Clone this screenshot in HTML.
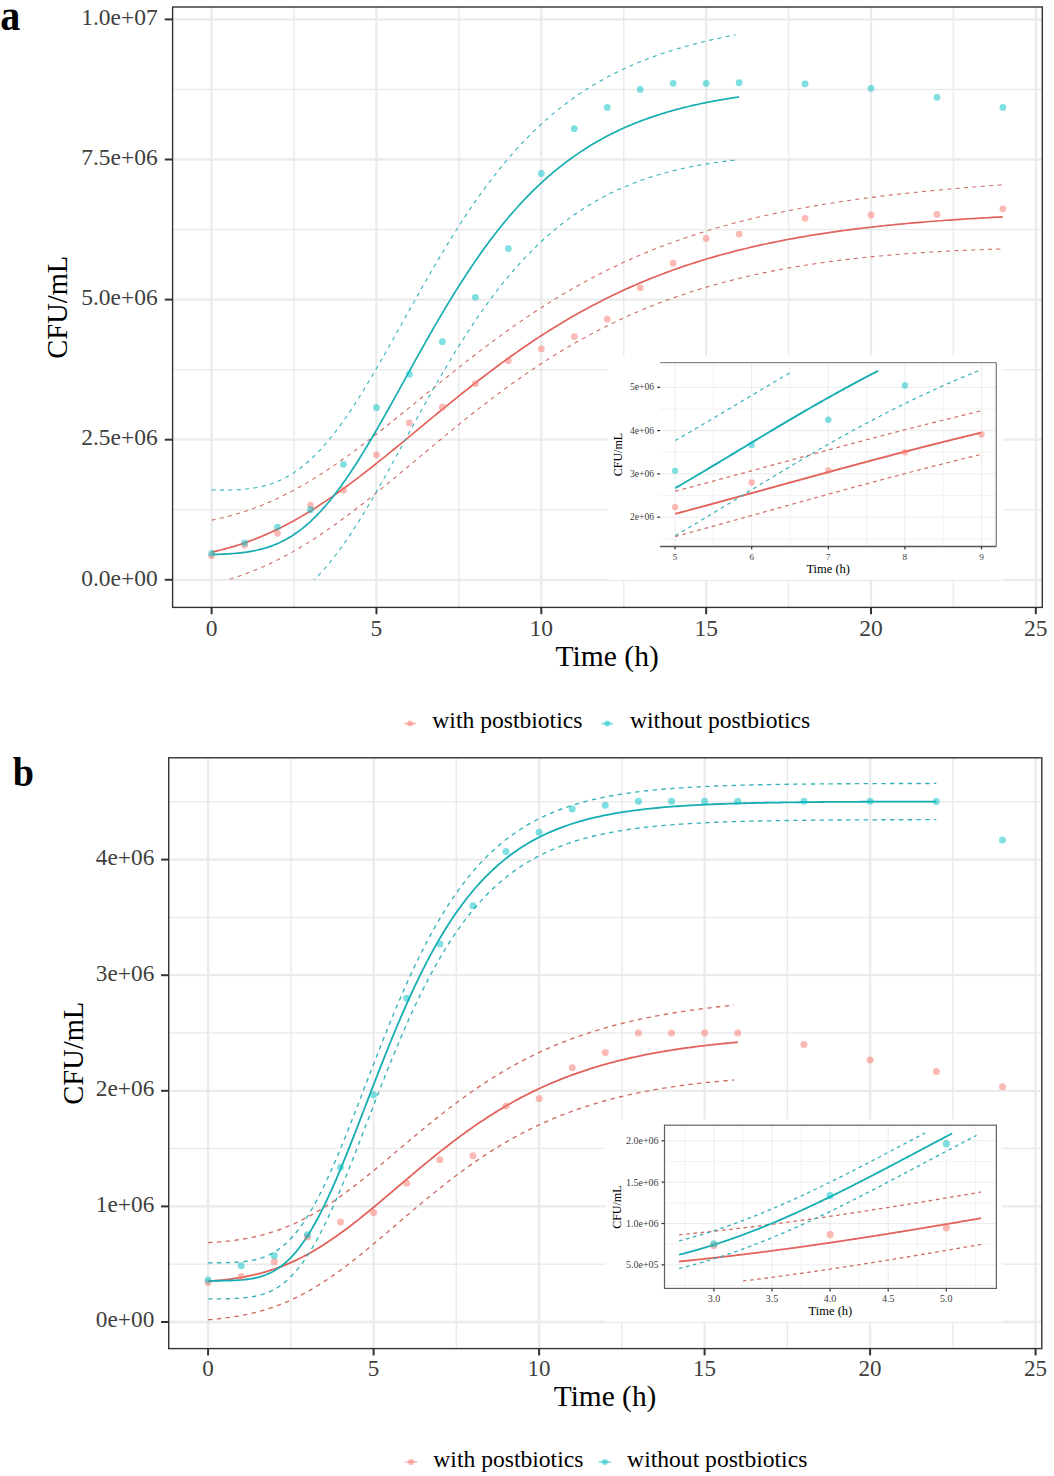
<!DOCTYPE html>
<html><head><meta charset="utf-8"><style>
html,body{margin:0;padding:0;background:#fff;}
body{width:1054px;height:1476px;overflow:hidden;}
svg{display:block;font-family:"Liberation Serif",serif;}
</style></head><body>
<svg width="1054" height="1476" viewBox="0 0 1054 1476">
<defs>
<clipPath id="cA"><rect x="172.6" y="7.0" width="869.7" height="572.8"/></clipPath>
<clipPath id="cAp"><rect x="172.6" y="7.0" width="869.7" height="600.4"/></clipPath>
<clipPath id="cIA"><rect x="675.1" y="369.98" width="306.4" height="168.87"/></clipPath>
<clipPath id="cB"><rect x="168.7" y="757.8" width="873.1" height="564.7"/></clipPath>
<clipPath id="cIB"><rect x="679.04" y="1132.53" width="302.12" height="148.86"/></clipPath>
</defs>
<rect x="172.6" y="7" width="869.7" height="600.4" fill="#fff"/>
<line x1="172.6" x2="1042.3" y1="509.75" y2="509.75" stroke="#EBEBEB" stroke-width="1.5"/>
<line x1="172.6" x2="1042.3" y1="369.65" y2="369.65" stroke="#EBEBEB" stroke-width="1.5"/>
<line x1="172.6" x2="1042.3" y1="229.55" y2="229.55" stroke="#EBEBEB" stroke-width="1.5"/>
<line x1="172.6" x2="1042.3" y1="89.45" y2="89.45" stroke="#EBEBEB" stroke-width="1.5"/>
<line y1="7" y2="607.4" x1="294.02" x2="294.02" stroke="#EBEBEB" stroke-width="1.5"/>
<line y1="7" y2="607.4" x1="458.88" x2="458.88" stroke="#EBEBEB" stroke-width="1.5"/>
<line y1="7" y2="607.4" x1="623.73" x2="623.73" stroke="#EBEBEB" stroke-width="1.5"/>
<line y1="7" y2="607.4" x1="788.58" x2="788.58" stroke="#EBEBEB" stroke-width="1.5"/>
<line y1="7" y2="607.4" x1="953.42" x2="953.42" stroke="#EBEBEB" stroke-width="1.5"/>
<line x1="172.6" x2="1042.3" y1="579.8" y2="579.8" stroke="#EBEBEB" stroke-width="2.3"/>
<line x1="172.6" x2="1042.3" y1="439.7" y2="439.7" stroke="#EBEBEB" stroke-width="2.3"/>
<line x1="172.6" x2="1042.3" y1="299.6" y2="299.6" stroke="#EBEBEB" stroke-width="2.3"/>
<line x1="172.6" x2="1042.3" y1="159.5" y2="159.5" stroke="#EBEBEB" stroke-width="2.3"/>
<line x1="172.6" x2="1042.3" y1="19.4" y2="19.4" stroke="#EBEBEB" stroke-width="2.3"/>
<line y1="7" y2="607.4" x1="211.6" x2="211.6" stroke="#EBEBEB" stroke-width="2.3"/>
<line y1="7" y2="607.4" x1="376.45" x2="376.45" stroke="#EBEBEB" stroke-width="2.3"/>
<line y1="7" y2="607.4" x1="541.3" x2="541.3" stroke="#EBEBEB" stroke-width="2.3"/>
<line y1="7" y2="607.4" x1="706.15" x2="706.15" stroke="#EBEBEB" stroke-width="2.3"/>
<line y1="7" y2="607.4" x1="871" x2="871" stroke="#EBEBEB" stroke-width="2.3"/>
<line y1="7" y2="607.4" x1="1035.85" x2="1035.85" stroke="#EBEBEB" stroke-width="2.3"/>
<g clip-path="url(#cA)" fill="none" stroke-linejoin="round">
<path d="M211.6,520.15 L214.91,519.47 L218.22,518.75 L221.53,518 L224.84,517.2 L228.15,516.35 L231.46,515.47 L234.78,514.54 L238.09,513.57 L241.4,512.55 L244.71,511.49 L248.02,510.38 L251.33,509.22 L254.64,508.02 L257.95,506.77 L261.26,505.48 L264.57,504.13 L267.88,502.74 L271.19,501.3 L274.51,499.81 L277.82,498.28 L281.13,496.7 L284.44,495.07 L287.75,493.4 L291.06,491.68 L294.37,489.91 L297.68,488.1 L300.99,486.24 L304.3,484.34 L307.61,482.4 L310.92,480.42 L314.23,478.39 L317.55,476.33 L320.86,474.22 L324.17,472.08 L327.48,469.9 L330.79,467.68 L334.1,465.42 L337.41,463.14 L340.72,460.82 L344.03,458.47 L347.34,456.09 L350.65,453.67 L353.96,451.24 L357.27,448.77 L360.59,446.28 L363.9,443.77 L367.21,441.23 L370.52,438.68 L373.83,436.1 L377.14,433.51 L380.45,430.9 L383.76,428.27 L387.07,425.63 L390.38,422.98 L393.69,420.32 L397,417.64 L400.32,414.96 L403.63,412.27 L406.94,409.58 L410.25,406.88 L413.56,404.17 L416.87,401.47 L420.18,398.76 L423.49,396.06 L426.8,393.36 L430.11,390.66 L433.42,387.96 L436.73,385.27 L440.04,382.58 L443.36,379.9 L446.67,377.23 L449.98,374.57 L453.29,371.92 L456.6,369.28 L459.91,366.65 L463.22,364.04 L466.53,361.43 L469.84,358.85 L473.15,356.27 L476.46,353.72 L479.77,351.18 L483.09,348.65 L486.4,346.15 L489.71,343.66 L493.02,341.2 L496.33,338.75 L499.64,336.32 L502.95,333.91 L506.26,331.53 L509.57,329.16 L512.88,326.82 L516.19,324.5 L519.5,322.2 L522.81,319.93 L526.13,317.67 L529.44,315.45 L532.75,313.24 L536.06,311.06 L539.37,308.9 L542.68,306.77 L545.99,304.66 L549.3,302.58 L552.61,300.52 L555.92,298.49 L559.23,296.48 L562.54,294.5 L565.86,292.54 L569.17,290.61 L572.48,288.7 L575.79,286.81 L579.1,284.95 L582.41,283.12 L585.72,281.31 L589.03,279.53 L592.34,277.77 L595.65,276.03 L598.96,274.32 L602.27,272.64 L605.58,270.98 L608.9,269.34 L612.21,267.73 L615.52,266.14 L618.83,264.57 L622.14,263.03 L625.45,261.51 L628.76,260.01 L632.07,258.54 L635.38,257.09 L638.69,255.66 L642,254.26 L645.31,252.88 L648.62,251.51 L651.94,250.17 L655.25,248.86 L658.56,247.56 L661.87,246.28 L665.18,245.03 L668.49,243.79 L671.8,242.58 L675.11,241.38 L678.42,240.21 L681.73,239.05 L685.04,237.92 L688.35,236.8 L691.67,235.7 L694.98,234.62 L698.29,233.56 L701.6,232.51 L704.91,231.49 L708.22,230.48 L711.53,229.49 L714.84,228.51 L718.15,227.56 L721.46,226.61 L724.77,225.69 L728.08,224.78 L731.39,223.89 L734.71,223.01 L738.02,222.15 L741.33,221.3 L744.64,220.47 L747.95,219.65 L751.26,218.84 L754.57,218.05 L757.88,217.27 L761.19,216.51 L764.5,215.76 L767.81,215.03 L771.12,214.3 L774.44,213.59 L777.75,212.89 L781.06,212.21 L784.37,211.53 L787.68,210.87 L790.99,210.22 L794.3,209.58 L797.61,208.95 L800.92,208.33 L804.23,207.72 L807.54,207.13 L810.85,206.54 L814.16,205.96 L817.48,205.4 L820.79,204.84 L824.1,204.3 L827.41,203.76 L830.72,203.23 L834.03,202.71 L837.34,202.2 L840.65,201.7 L843.96,201.21 L847.27,200.72 L850.58,200.25 L853.89,199.78 L857.21,199.32 L860.52,198.86 L863.83,198.42 L867.14,197.98 L870.45,197.55 L873.76,197.13 L877.07,196.71 L880.38,196.3 L883.69,195.9 L887,195.5 L890.31,195.11 L893.62,194.72 L896.93,194.35 L900.25,193.98 L903.56,193.61 L906.87,193.25 L910.18,192.89 L913.49,192.54 L916.8,192.2 L920.11,191.86 L923.42,191.53 L926.73,191.2 L930.04,190.88 L933.35,190.56 L936.66,190.24 L939.97,189.94 L943.29,189.63 L946.6,189.33 L949.91,189.03 L953.22,188.74 L956.53,188.45 L959.84,188.17 L963.15,187.89 L966.46,187.61 L969.77,187.34 L973.08,187.07 L976.39,186.81 L979.7,186.55 L983.02,186.29 L986.33,186.03 L989.64,185.78 L992.95,185.53 L996.26,185.29 L999.57,185.05 L1002.88,184.81" stroke="#D06A63" stroke-width="1.1" stroke-dasharray="4 4.4"/>
<path d="M229.73,579.18 L232.97,578.17 L236.2,577.12 L239.44,576.03 L242.67,574.9 L245.91,573.72 L249.14,572.51 L252.38,571.24 L255.61,569.94 L258.85,568.59 L262.08,567.2 L265.32,565.76 L268.55,564.28 L271.79,562.76 L275.02,561.19 L278.26,559.58 L281.49,557.92 L284.73,556.22 L287.96,554.47 L291.2,552.69 L294.43,550.86 L297.67,548.99 L300.9,547.07 L304.14,545.12 L307.37,543.13 L310.61,541.1 L313.84,539.03 L317.08,536.92 L320.31,534.77 L323.55,532.59 L326.78,530.37 L330.02,528.12 L333.25,525.84 L336.49,523.52 L339.72,521.18 L342.96,518.8 L346.19,516.4 L349.43,513.97 L352.66,511.51 L355.9,509.03 L359.13,506.52 L362.37,504 L365.6,501.45 L368.84,498.88 L372.07,496.29 L375.31,493.69 L378.54,491.07 L381.77,488.44 L385.01,485.79 L388.24,483.13 L391.48,480.46 L394.71,477.78 L397.95,475.1 L401.18,472.4 L404.42,469.7 L407.65,467 L410.89,464.29 L414.12,461.58 L417.36,458.87 L420.59,456.16 L423.83,453.45 L427.06,450.75 L430.3,448.05 L433.53,445.35 L436.77,442.66 L440,439.97 L443.24,437.3 L446.47,434.63 L449.71,431.97 L452.94,429.32 L456.18,426.69 L459.41,424.06 L462.65,421.45 L465.88,418.85 L469.12,416.27 L472.35,413.7 L475.59,411.15 L478.82,408.62 L482.06,406.1 L485.29,403.6 L488.53,401.12 L491.76,398.65 L495,396.21 L498.23,393.79 L501.47,391.39 L504.7,389.01 L507.94,386.65 L511.17,384.31 L514.41,381.99 L517.64,379.7 L520.88,377.43 L524.11,375.18 L527.35,372.96 L530.58,370.76 L533.82,368.58 L537.05,366.43 L540.29,364.3 L543.52,362.2 L546.76,360.12 L549.99,358.06 L553.23,356.03 L556.46,354.03 L559.7,352.05 L562.93,350.09 L566.17,348.16 L569.4,346.26 L572.64,344.38 L575.87,342.52 L579.11,340.69 L582.34,338.89 L585.57,337.11 L588.81,335.35 L592.04,333.62 L595.28,331.91 L598.51,330.23 L601.75,328.58 L604.98,326.94 L608.22,325.34 L611.45,323.75 L614.69,322.19 L617.92,320.66 L621.16,319.14 L624.39,317.65 L627.63,316.19 L630.86,314.75 L634.1,313.33 L637.33,311.93 L640.57,310.55 L643.8,309.2 L647.04,307.87 L650.27,306.57 L653.51,305.28 L656.74,304.02 L659.98,302.77 L663.21,301.55 L666.45,300.35 L669.68,299.17 L672.92,298.01 L676.15,296.87 L679.39,295.75 L682.62,294.65 L685.86,293.57 L689.09,292.51 L692.33,291.47 L695.56,290.44 L698.8,289.44 L702.03,288.45 L705.27,287.48 L708.5,286.53 L711.74,285.6 L714.97,284.68 L718.21,283.78 L721.44,282.9 L724.68,282.04 L727.91,281.19 L731.15,280.36 L734.38,279.54 L737.62,278.74 L740.85,277.96 L744.09,277.19 L747.32,276.43 L750.56,275.69 L753.79,274.97 L757.03,274.25 L760.26,273.56 L763.5,272.88 L766.73,272.21 L769.97,271.55 L773.2,270.91 L776.44,270.28 L779.67,269.67 L782.91,269.06 L786.14,268.47 L789.38,267.89 L792.61,267.33 L795.84,266.77 L799.08,266.23 L802.31,265.7 L805.55,265.18 L808.78,264.67 L812.02,264.17 L815.25,263.69 L818.49,263.21 L821.72,262.75 L824.96,262.29 L828.19,261.85 L831.43,261.41 L834.66,260.98 L837.9,260.57 L841.13,260.16 L844.37,259.77 L847.6,259.38 L850.84,259 L854.07,258.63 L857.31,258.27 L860.54,257.91 L863.78,257.57 L867.01,257.23 L870.25,256.91 L873.48,256.59 L876.72,256.27 L879.95,255.97 L883.19,255.67 L886.42,255.38 L889.66,255.1 L892.89,254.82 L896.13,254.56 L899.36,254.3 L902.6,254.04 L905.83,253.79 L909.07,253.55 L912.3,253.32 L915.54,253.09 L918.77,252.87 L922.01,252.65 L925.24,252.44 L928.48,252.24 L931.71,252.04 L934.95,251.85 L938.18,251.66 L941.42,251.48 L944.65,251.3 L947.89,251.13 L951.12,250.97 L954.36,250.81 L957.59,250.65 L960.83,250.5 L964.06,250.36 L967.3,250.22 L970.53,250.08 L973.77,249.95 L977,249.82 L980.24,249.7 L983.47,249.58 L986.71,249.47 L989.94,249.36 L993.18,249.26 L996.41,249.16 L999.65,249.06 L1002.88,248.97" stroke="#D06A63" stroke-width="1.1" stroke-dasharray="4 4.4"/>
<path d="M211.6,552.13 L214.91,551.39 L218.22,550.6 L221.53,549.78 L224.84,548.91 L228.15,548.01 L231.46,547.06 L234.78,546.07 L238.09,545.03 L241.4,543.95 L244.71,542.83 L248.02,541.66 L251.33,540.44 L254.64,539.18 L257.95,537.87 L261.26,536.52 L264.57,535.11 L267.88,533.67 L271.19,532.17 L274.51,530.63 L277.82,529.04 L281.13,527.4 L284.44,525.72 L287.75,523.99 L291.06,522.22 L294.37,520.4 L297.68,518.54 L300.99,516.63 L304.3,514.68 L307.61,512.69 L310.92,510.66 L314.23,508.58 L317.55,506.47 L320.86,504.31 L324.17,502.12 L327.48,499.89 L330.79,497.63 L334.1,495.33 L337.41,493 L340.72,490.63 L344.03,488.24 L347.34,485.81 L350.65,483.36 L353.96,480.88 L357.27,478.37 L360.59,475.84 L363.9,473.28 L367.21,470.7 L370.52,468.11 L373.83,465.49 L377.14,462.86 L380.45,460.21 L383.76,457.54 L387.07,454.86 L390.38,452.17 L393.69,449.47 L397,446.76 L400.32,444.04 L403.63,441.32 L406.94,438.59 L410.25,435.85 L413.56,433.12 L416.87,430.38 L420.18,427.64 L423.49,424.9 L426.8,422.16 L430.11,419.43 L433.42,416.7 L436.73,413.98 L440.04,411.26 L443.36,408.55 L446.67,405.85 L449.98,403.16 L453.29,400.48 L456.6,397.81 L459.91,395.16 L463.22,392.51 L466.53,389.88 L469.84,387.27 L473.15,384.67 L476.46,382.09 L479.77,379.52 L483.09,376.98 L486.4,374.45 L489.71,371.94 L493.02,369.45 L496.33,366.98 L499.64,364.53 L502.95,362.1 L506.26,359.7 L509.57,357.31 L512.88,354.95 L516.19,352.61 L519.5,350.29 L522.81,348 L526.13,345.73 L529.44,343.49 L532.75,341.27 L536.06,339.07 L539.37,336.9 L542.68,334.76 L545.99,332.64 L549.3,330.54 L552.61,328.47 L555.92,326.42 L559.23,324.4 L562.54,322.41 L565.86,320.44 L569.17,318.5 L572.48,316.58 L575.79,314.69 L579.1,312.82 L582.41,310.98 L585.72,309.17 L589.03,307.38 L592.34,305.62 L595.65,303.88 L598.96,302.16 L602.27,300.47 L605.58,298.81 L608.9,297.17 L612.21,295.56 L615.52,293.97 L618.83,292.4 L622.14,290.86 L625.45,289.34 L628.76,287.85 L632.07,286.38 L635.38,284.93 L638.69,283.51 L642,282.11 L645.31,280.73 L648.62,279.37 L651.94,278.04 L655.25,276.73 L658.56,275.44 L661.87,274.17 L665.18,272.92 L668.49,271.7 L671.8,270.49 L675.11,269.31 L678.42,268.14 L681.73,267 L685.04,265.88 L688.35,264.77 L691.67,263.69 L694.98,262.62 L698.29,261.58 L701.6,260.55 L704.91,259.54 L708.22,258.55 L711.53,257.57 L714.84,256.62 L718.15,255.68 L721.46,254.76 L724.77,253.85 L728.08,252.96 L731.39,252.09 L734.71,251.23 L738.02,250.39 L741.33,249.57 L744.64,248.76 L747.95,247.97 L751.26,247.19 L754.57,246.42 L757.88,245.67 L761.19,244.94 L764.5,244.21 L767.81,243.51 L771.12,242.81 L774.44,242.13 L777.75,241.46 L781.06,240.81 L784.37,240.16 L787.68,239.53 L790.99,238.91 L794.3,238.31 L797.61,237.71 L800.92,237.13 L804.23,236.56 L807.54,236 L810.85,235.45 L814.16,234.91 L817.48,234.38 L820.79,233.86 L824.1,233.35 L827.41,232.86 L830.72,232.37 L834.03,231.89 L837.34,231.42 L840.65,230.96 L843.96,230.51 L847.27,230.07 L850.58,229.64 L853.89,229.21 L857.21,228.8 L860.52,228.39 L863.83,227.99 L867.14,227.6 L870.45,227.22 L873.76,226.84 L877.07,226.47 L880.38,226.11 L883.69,225.76 L887,225.42 L890.31,225.08 L893.62,224.74 L896.93,224.42 L900.25,224.1 L903.56,223.79 L906.87,223.48 L910.18,223.18 L913.49,222.89 L916.8,222.6 L920.11,222.32 L923.42,222.04 L926.73,221.77 L930.04,221.51 L933.35,221.25 L936.66,221 L939.97,220.75 L943.29,220.5 L946.6,220.27 L949.91,220.03 L953.22,219.8 L956.53,219.58 L959.84,219.36 L963.15,219.14 L966.46,218.93 L969.77,218.73 L973.08,218.53 L976.39,218.33 L979.7,218.13 L983.02,217.94 L986.33,217.76 L989.64,217.58 L992.95,217.4 L996.26,217.22 L999.57,217.05 L1002.88,216.89" stroke="#E2635B" stroke-width="1.7"/>
<path d="M211.6,489.92 L213.79,489.98 L215.98,490.04 L218.18,490.08 L220.37,490.12 L222.56,490.14 L224.75,490.14 L226.94,490.13 L229.14,490.1 L231.33,490.06 L233.52,489.99 L235.71,489.91 L237.9,489.79 L240.1,489.66 L242.29,489.49 L244.48,489.3 L246.67,489.07 L248.86,488.82 L251.06,488.52 L253.25,488.19 L255.44,487.82 L257.63,487.41 L259.82,486.95 L262.02,486.45 L264.21,485.89 L266.4,485.29 L268.59,484.64 L270.78,483.93 L272.98,483.16 L275.17,482.33 L277.36,481.44 L279.55,480.49 L281.74,479.48 L283.94,478.4 L286.13,477.25 L288.32,476.03 L290.51,474.74 L292.7,473.38 L294.9,471.95 L297.09,470.44 L299.28,468.86 L301.47,467.2 L303.66,465.47 L305.86,463.65 L308.05,461.77 L310.24,459.8 L312.43,457.76 L314.63,455.64 L316.82,453.44 L319.01,451.16 L321.2,448.81 L323.39,446.39 L325.59,443.89 L327.78,441.32 L329.97,438.67 L332.16,435.95 L334.35,433.16 L336.55,430.31 L338.74,427.39 L340.93,424.4 L343.12,421.35 L345.31,418.23 L347.51,415.06 L349.7,411.83 L351.89,408.54 L354.08,405.2 L356.27,401.8 L358.47,398.36 L360.66,394.87 L362.85,391.34 L365.04,387.76 L367.23,384.14 L369.43,380.49 L371.62,376.8 L373.81,373.08 L376,369.32 L378.19,365.54 L380.39,361.74 L382.58,357.91 L384.77,354.06 L386.96,350.19 L389.15,346.3 L391.35,342.4 L393.54,338.49 L395.73,334.58 L397.92,330.65 L400.11,326.72 L402.31,322.79 L404.5,318.85 L406.69,314.92 L408.88,310.99 L411.07,307.07 L413.27,303.16 L415.46,299.25 L417.65,295.36 L419.84,291.47 L422.03,287.61 L424.23,283.76 L426.42,279.92 L428.61,276.11 L430.8,272.31 L432.99,268.54 L435.19,264.79 L437.38,261.07 L439.57,257.37 L441.76,253.69 L443.95,250.05 L446.15,246.43 L448.34,242.85 L450.53,239.29 L452.72,235.77 L454.91,232.28 L457.11,228.82 L459.3,225.39 L461.49,222 L463.68,218.65 L465.87,215.33 L468.07,212.04 L470.26,208.8 L472.45,205.59 L474.64,202.41 L476.83,199.28 L479.03,196.18 L481.22,193.12 L483.41,190.1 L485.6,187.12 L487.79,184.18 L489.99,181.27 L492.18,178.41 L494.37,175.58 L496.56,172.79 L498.75,170.04 L500.95,167.33 L503.14,164.66 L505.33,162.03 L507.52,159.43 L509.72,156.87 L511.91,154.36 L514.1,151.88 L516.29,149.43 L518.48,147.03 L520.68,144.66 L522.87,142.33 L525.06,140.04 L527.25,137.78 L529.44,135.56 L531.64,133.38 L533.83,131.23 L536.02,129.11 L538.21,127.04 L540.4,124.99 L542.6,122.98 L544.79,121 L546.98,119.06 L549.17,117.15 L551.36,115.27 L553.56,113.43 L555.75,111.62 L557.94,109.84 L560.13,108.08 L562.32,106.36 L564.52,104.68 L566.71,103.02 L568.9,101.38 L571.09,99.78 L573.28,98.21 L575.48,96.67 L577.67,95.15 L579.86,93.66 L582.05,92.2 L584.24,90.76 L586.44,89.35 L588.63,87.96 L590.82,86.6 L593.01,85.27 L595.2,83.96 L597.4,82.67 L599.59,81.41 L601.78,80.17 L603.97,78.95 L606.16,77.76 L608.36,76.58 L610.55,75.43 L612.74,74.3 L614.93,73.19 L617.12,72.1 L619.32,71.03 L621.51,69.98 L623.7,68.95 L625.89,67.94 L628.08,66.95 L630.28,65.98 L632.47,65.02 L634.66,64.08 L636.85,63.16 L639.04,62.26 L641.24,61.37 L643.43,60.49 L645.62,59.64 L647.81,58.8 L650,57.97 L652.2,57.16 L654.39,56.37 L656.58,55.58 L658.77,54.82 L660.96,54.06 L663.16,53.32 L665.35,52.6 L667.54,51.88 L669.73,51.18 L671.92,50.49 L674.12,49.81 L676.31,49.15 L678.5,48.49 L680.69,47.85 L682.88,47.22 L685.08,46.6 L687.27,45.99 L689.46,45.39 L691.65,44.8 L693.84,44.22 L696.04,43.65 L698.23,43.09 L700.42,42.54 L702.61,41.99 L704.8,41.46 L707,40.94 L709.19,40.42 L711.38,39.91 L713.57,39.41 L715.77,38.92 L717.96,38.43 L720.15,37.96 L722.34,37.49 L724.53,37.02 L726.73,36.57 L728.92,36.12 L731.11,35.68 L733.3,35.24 L735.49,34.81" stroke="#34B3B7" stroke-width="1.1" stroke-dasharray="4 4.4"/>
<path d="M312.16,581.74 L313.93,580.03 L315.7,578.27 L317.47,576.46 L319.24,574.61 L321.01,572.7 L322.79,570.74 L324.56,568.74 L326.33,566.69 L328.1,564.59 L329.87,562.44 L331.64,560.24 L333.41,558 L335.19,555.72 L336.96,553.39 L338.73,551.01 L340.5,548.59 L342.27,546.13 L344.04,543.63 L345.81,541.09 L347.58,538.5 L349.36,535.88 L351.13,533.22 L352.9,530.52 L354.67,527.79 L356.44,525.02 L358.21,522.22 L359.98,519.39 L361.75,516.52 L363.53,513.62 L365.3,510.7 L367.07,507.75 L368.84,504.77 L370.61,501.76 L372.38,498.74 L374.15,495.69 L375.92,492.61 L377.7,489.52 L379.47,486.41 L381.24,483.28 L383.01,480.14 L384.78,476.98 L386.55,473.81 L388.32,470.62 L390.09,467.42 L391.87,464.22 L393.64,461 L395.41,457.78 L397.18,454.55 L398.95,451.32 L400.72,448.08 L402.49,444.84 L404.26,441.6 L406.04,438.35 L407.81,435.11 L409.58,431.87 L411.35,428.63 L413.12,425.4 L414.89,422.17 L416.66,418.95 L418.44,415.73 L420.21,412.52 L421.98,409.32 L423.75,406.14 L425.52,402.96 L427.29,399.79 L429.06,396.63 L430.83,393.49 L432.61,390.36 L434.38,387.25 L436.15,384.15 L437.92,381.07 L439.69,378 L441.46,374.95 L443.23,371.92 L445,368.91 L446.78,365.91 L448.55,362.94 L450.32,359.99 L452.09,357.05 L453.86,354.14 L455.63,351.25 L457.4,348.39 L459.17,345.54 L460.95,342.72 L462.72,339.92 L464.49,337.14 L466.26,334.39 L468.03,331.66 L469.8,328.96 L471.57,326.28 L473.34,323.63 L475.12,321 L476.89,318.4 L478.66,315.82 L480.43,313.27 L482.2,310.75 L483.97,308.25 L485.74,305.77 L487.51,303.33 L489.29,300.91 L491.06,298.51 L492.83,296.15 L494.6,293.81 L496.37,291.49 L498.14,289.21 L499.91,286.95 L501.68,284.71 L503.46,282.5 L505.23,280.32 L507,278.17 L508.77,276.04 L510.54,273.94 L512.31,271.87 L514.08,269.82 L515.86,267.79 L517.63,265.8 L519.4,263.83 L521.17,261.88 L522.94,259.97 L524.71,258.07 L526.48,256.2 L528.25,254.36 L530.03,252.55 L531.8,250.75 L533.57,248.99 L535.34,247.24 L537.11,245.53 L538.88,243.83 L540.65,242.16 L542.42,240.52 L544.2,238.9 L545.97,237.3 L547.74,235.72 L549.51,234.17 L551.28,232.65 L553.05,231.14 L554.82,229.66 L556.59,228.2 L558.37,226.76 L560.14,225.34 L561.91,223.95 L563.68,222.58 L565.45,221.23 L567.22,219.89 L568.99,218.59 L570.76,217.3 L572.54,216.03 L574.31,214.78 L576.08,213.55 L577.85,212.34 L579.62,211.16 L581.39,209.99 L583.16,208.84 L584.93,207.71 L586.71,206.59 L588.48,205.5 L590.25,204.42 L592.02,203.36 L593.79,202.32 L595.56,201.3 L597.33,200.3 L599.11,199.31 L600.88,198.34 L602.65,197.38 L604.42,196.45 L606.19,195.53 L607.96,194.62 L609.73,193.73 L611.5,192.86 L613.28,192 L615.05,191.15 L616.82,190.33 L618.59,189.51 L620.36,188.71 L622.13,187.93 L623.9,187.16 L625.67,186.4 L627.45,185.66 L629.22,184.93 L630.99,184.22 L632.76,183.52 L634.53,182.83 L636.3,182.15 L638.07,181.49 L639.84,180.84 L641.62,180.2 L643.39,179.58 L645.16,178.96 L646.93,178.36 L648.7,177.77 L650.47,177.19 L652.24,176.63 L654.01,176.07 L655.79,175.52 L657.56,174.99 L659.33,174.47 L661.1,173.95 L662.87,173.45 L664.64,172.96 L666.41,172.48 L668.18,172 L669.96,171.54 L671.73,171.09 L673.5,170.64 L675.27,170.21 L677.04,169.79 L678.81,169.37 L680.58,168.96 L682.36,168.57 L684.13,168.18 L685.9,167.79 L687.67,167.42 L689.44,167.06 L691.21,166.7 L692.98,166.35 L694.75,166.01 L696.53,165.68 L698.3,165.36 L700.07,165.04 L701.84,164.73 L703.61,164.43 L705.38,164.13 L707.15,163.84 L708.92,163.56 L710.7,163.29 L712.47,163.02 L714.24,162.76 L716.01,162.51 L717.78,162.26 L719.55,162.02 L721.32,161.78 L723.09,161.56 L724.87,161.33 L726.64,161.12 L728.41,160.91 L730.18,160.7 L731.95,160.5 L733.72,160.31 L735.49,160.12" stroke="#34B3B7" stroke-width="1.1" stroke-dasharray="4 4.4"/>
<path d="M211.6,554.52 L213.81,554.47 L216.01,554.41 L218.22,554.34 L220.43,554.26 L222.64,554.17 L224.84,554.07 L227.05,553.95 L229.26,553.82 L231.46,553.67 L233.67,553.51 L235.88,553.32 L238.09,553.12 L240.29,552.89 L242.5,552.63 L244.71,552.35 L246.92,552.04 L249.12,551.69 L251.33,551.32 L253.54,550.91 L255.74,550.46 L257.95,549.97 L260.16,549.44 L262.37,548.87 L264.57,548.25 L266.78,547.58 L268.99,546.86 L271.19,546.08 L273.4,545.25 L275.61,544.37 L277.82,543.42 L280.02,542.42 L282.23,541.35 L284.44,540.21 L286.64,539.01 L288.85,537.74 L291.06,536.41 L293.27,535 L295.47,533.51 L297.68,531.96 L299.89,530.33 L302.1,528.62 L304.3,526.84 L306.51,524.98 L308.72,523.05 L310.92,521.04 L313.13,518.95 L315.34,516.78 L317.55,514.54 L319.75,512.22 L321.96,509.82 L324.17,507.35 L326.37,504.8 L328.58,502.18 L330.79,499.49 L333,496.72 L335.2,493.88 L337.41,490.97 L339.62,488 L341.82,484.96 L344.03,481.85 L346.24,478.68 L348.45,475.45 L350.65,472.17 L352.86,468.82 L355.07,465.42 L357.27,461.97 L359.48,458.47 L361.69,454.92 L363.9,451.32 L366.1,447.68 L368.31,444.01 L370.52,440.29 L372.73,436.53 L374.93,432.75 L377.14,428.93 L379.35,425.08 L381.55,421.21 L383.76,417.31 L385.97,413.4 L388.18,409.46 L390.38,405.51 L392.59,401.55 L394.8,397.57 L397,393.58 L399.21,389.59 L401.42,385.59 L403.63,381.59 L405.83,377.59 L408.04,373.59 L410.25,369.6 L412.45,365.61 L414.66,361.63 L416.87,357.66 L419.08,353.7 L421.28,349.75 L423.49,345.82 L425.7,341.91 L427.91,338.01 L430.11,334.14 L432.32,330.28 L434.53,326.45 L436.73,322.64 L438.94,318.86 L441.15,315.1 L443.36,311.38 L445.56,307.68 L447.77,304.01 L449.98,300.37 L452.18,296.76 L454.39,293.19 L456.6,289.65 L458.81,286.14 L461.01,282.67 L463.22,279.24 L465.43,275.84 L467.63,272.48 L469.84,269.16 L472.05,265.87 L474.26,262.62 L476.46,259.41 L478.67,256.24 L480.88,253.11 L483.09,250.02 L485.29,246.97 L487.5,243.96 L489.71,240.99 L491.91,238.06 L494.12,235.17 L496.33,232.32 L498.54,229.51 L500.74,226.74 L502.95,224.01 L505.16,221.32 L507.36,218.67 L509.57,216.06 L511.78,213.5 L513.99,210.97 L516.19,208.48 L518.4,206.03 L520.61,203.62 L522.81,201.24 L525.02,198.91 L527.23,196.62 L529.44,194.36 L531.64,192.14 L533.85,189.96 L536.06,187.81 L538.27,185.7 L540.47,183.63 L542.68,181.59 L544.89,179.59 L547.09,177.63 L549.3,175.7 L551.51,173.8 L553.72,171.94 L555.92,170.11 L558.13,168.32 L560.34,166.55 L562.54,164.82 L564.75,163.13 L566.96,161.46 L569.17,159.82 L571.37,158.22 L573.58,156.65 L575.79,155.1 L577.99,153.59 L580.2,152.1 L582.41,150.64 L584.62,149.21 L586.82,147.81 L589.03,146.44 L591.24,145.09 L593.45,143.77 L595.65,142.47 L597.86,141.2 L600.07,139.96 L602.27,138.74 L604.48,137.54 L606.69,136.37 L608.9,135.22 L611.1,134.1 L613.31,133 L615.52,131.92 L617.72,130.86 L619.93,129.82 L622.14,128.81 L624.35,127.81 L626.55,126.84 L628.76,125.88 L630.97,124.95 L633.17,124.04 L635.38,123.14 L637.59,122.26 L639.8,121.4 L642,120.56 L644.21,119.74 L646.42,118.93 L648.62,118.14 L650.83,117.37 L653.04,116.61 L655.25,115.87 L657.45,115.15 L659.66,114.44 L661.87,113.75 L664.08,113.07 L666.28,112.4 L668.49,111.75 L670.7,111.11 L672.9,110.49 L675.11,109.88 L677.32,109.28 L679.53,108.7 L681.73,108.13 L683.94,107.57 L686.15,107.02 L688.35,106.48 L690.56,105.96 L692.77,105.45 L694.98,104.95 L697.18,104.46 L699.39,103.98 L701.6,103.51 L703.8,103.05 L706.01,102.6 L708.22,102.16 L710.43,101.73 L712.63,101.31 L714.84,100.9 L717.05,100.5 L719.26,100.1 L721.46,99.72 L723.67,99.34 L725.88,98.98 L728.08,98.62 L730.29,98.26 L732.5,97.92 L734.71,97.58 L736.91,97.25 L739.12,96.93" stroke="#16ADB2" stroke-width="1.7"/>
</g>
<g clip-path="url(#cAp)">
<circle cx="211.6" cy="555.7" r="3.4" fill="#F8766D" fill-opacity="0.5"/>
<circle cx="244.57" cy="545.06" r="3.4" fill="#F8766D" fill-opacity="0.5"/>
<circle cx="277.54" cy="533.29" r="3.4" fill="#F8766D" fill-opacity="0.5"/>
<circle cx="310.51" cy="505.27" r="3.4" fill="#F8766D" fill-opacity="0.5"/>
<circle cx="343.48" cy="490.14" r="3.4" fill="#F8766D" fill-opacity="0.5"/>
<circle cx="376.45" cy="454.83" r="3.4" fill="#F8766D" fill-opacity="0.5"/>
<circle cx="409.42" cy="422.89" r="3.4" fill="#F8766D" fill-opacity="0.5"/>
<circle cx="442.39" cy="407.2" r="3.4" fill="#F8766D" fill-opacity="0.5"/>
<circle cx="475.36" cy="383.66" r="3.4" fill="#F8766D" fill-opacity="0.5"/>
<circle cx="508.33" cy="360.68" r="3.4" fill="#F8766D" fill-opacity="0.5"/>
<circle cx="541.3" cy="348.92" r="3.4" fill="#F8766D" fill-opacity="0.5"/>
<circle cx="574.27" cy="336.59" r="3.4" fill="#F8766D" fill-opacity="0.5"/>
<circle cx="607.24" cy="319.21" r="3.4" fill="#F8766D" fill-opacity="0.5"/>
<circle cx="640.21" cy="287.83" r="3.4" fill="#F8766D" fill-opacity="0.5"/>
<circle cx="673.18" cy="263.17" r="3.4" fill="#F8766D" fill-opacity="0.5"/>
<circle cx="706.15" cy="238.52" r="3.4" fill="#F8766D" fill-opacity="0.5"/>
<circle cx="739.12" cy="234.03" r="3.4" fill="#F8766D" fill-opacity="0.5"/>
<circle cx="805.06" cy="218.34" r="3.4" fill="#F8766D" fill-opacity="0.5"/>
<circle cx="871" cy="214.98" r="3.4" fill="#F8766D" fill-opacity="0.5"/>
<circle cx="936.94" cy="214.42" r="3.4" fill="#F8766D" fill-opacity="0.5"/>
<circle cx="1002.88" cy="208.82" r="3.4" fill="#F8766D" fill-opacity="0.5"/>
<circle cx="211.6" cy="553.46" r="3.4" fill="#00BFC4" fill-opacity="0.5"/>
<circle cx="244.57" cy="542.81" r="3.4" fill="#00BFC4" fill-opacity="0.5"/>
<circle cx="277.54" cy="527.12" r="3.4" fill="#00BFC4" fill-opacity="0.5"/>
<circle cx="310.51" cy="509.75" r="3.4" fill="#00BFC4" fill-opacity="0.5"/>
<circle cx="343.48" cy="464.36" r="3.4" fill="#00BFC4" fill-opacity="0.5"/>
<circle cx="376.45" cy="407.76" r="3.4" fill="#00BFC4" fill-opacity="0.5"/>
<circle cx="409.42" cy="374.13" r="3.4" fill="#00BFC4" fill-opacity="0.5"/>
<circle cx="442.39" cy="341.63" r="3.4" fill="#00BFC4" fill-opacity="0.5"/>
<circle cx="475.36" cy="297.36" r="3.4" fill="#00BFC4" fill-opacity="0.5"/>
<circle cx="508.33" cy="248.6" r="3.4" fill="#00BFC4" fill-opacity="0.5"/>
<circle cx="541.3" cy="173.51" r="3.4" fill="#00BFC4" fill-opacity="0.5"/>
<circle cx="574.27" cy="128.68" r="3.4" fill="#00BFC4" fill-opacity="0.5"/>
<circle cx="607.24" cy="107.38" r="3.4" fill="#00BFC4" fill-opacity="0.5"/>
<circle cx="640.21" cy="89.45" r="3.4" fill="#00BFC4" fill-opacity="0.5"/>
<circle cx="673.18" cy="83.29" r="3.4" fill="#00BFC4" fill-opacity="0.5"/>
<circle cx="706.15" cy="83.29" r="3.4" fill="#00BFC4" fill-opacity="0.5"/>
<circle cx="739.12" cy="82.73" r="3.4" fill="#00BFC4" fill-opacity="0.5"/>
<circle cx="805.06" cy="83.85" r="3.4" fill="#00BFC4" fill-opacity="0.5"/>
<circle cx="871" cy="88.33" r="3.4" fill="#00BFC4" fill-opacity="0.5"/>
<circle cx="936.94" cy="97.3" r="3.4" fill="#00BFC4" fill-opacity="0.5"/>
<circle cx="1002.88" cy="107.38" r="3.4" fill="#00BFC4" fill-opacity="0.5"/>
</g>
<rect x="172.6" y="7.0" width="869.7" height="600.4" fill="none" stroke="#333" stroke-width="1.4"/>
<line x1="211.6" x2="211.6" y1="607.4" y2="614.1999999999999" stroke="#333" stroke-width="2"/>
<text x="211.6" y="636.3" font-size="23.5" text-anchor="middle" fill="#404040">0</text>
<line x1="376.45" x2="376.45" y1="607.4" y2="614.1999999999999" stroke="#333" stroke-width="2"/>
<text x="376.45" y="636.3" font-size="23.5" text-anchor="middle" fill="#404040">5</text>
<line x1="541.3" x2="541.3" y1="607.4" y2="614.1999999999999" stroke="#333" stroke-width="2"/>
<text x="541.3" y="636.3" font-size="23.5" text-anchor="middle" fill="#404040">10</text>
<line x1="706.15" x2="706.15" y1="607.4" y2="614.1999999999999" stroke="#333" stroke-width="2"/>
<text x="706.15" y="636.3" font-size="23.5" text-anchor="middle" fill="#404040">15</text>
<line x1="871" x2="871" y1="607.4" y2="614.1999999999999" stroke="#333" stroke-width="2"/>
<text x="871" y="636.3" font-size="23.5" text-anchor="middle" fill="#404040">20</text>
<line x1="1035.85" x2="1035.85" y1="607.4" y2="614.1999999999999" stroke="#333" stroke-width="2"/>
<text x="1035.85" y="636.3" font-size="23.5" text-anchor="middle" fill="#404040">25</text>
<line x1="164.79999999999998" x2="172.6" y1="579.8" y2="579.8" stroke="#333" stroke-width="2"/>
<text x="157.8" y="585.5" font-size="23.5" text-anchor="end" fill="#404040">0.0e+00</text>
<line x1="164.79999999999998" x2="172.6" y1="439.7" y2="439.7" stroke="#333" stroke-width="2"/>
<text x="157.8" y="445.4" font-size="23.5" text-anchor="end" fill="#404040">2.5e+06</text>
<line x1="164.79999999999998" x2="172.6" y1="299.6" y2="299.6" stroke="#333" stroke-width="2"/>
<text x="157.8" y="305.3" font-size="23.5" text-anchor="end" fill="#404040">5.0e+06</text>
<line x1="164.79999999999998" x2="172.6" y1="159.5" y2="159.5" stroke="#333" stroke-width="2"/>
<text x="157.8" y="165.2" font-size="23.5" text-anchor="end" fill="#404040">7.5e+06</text>
<line x1="164.79999999999998" x2="172.6" y1="19.4" y2="19.4" stroke="#333" stroke-width="2"/>
<text x="157.8" y="25.1" font-size="23.5" text-anchor="end" fill="#404040">1.0e+07</text>
<rect x="607.24" y="355.64" width="395.64" height="224.16" fill="#fff"/>
<rect x="660.1" y="362.6" width="336.2" height="183.9" fill="#fff"/>
<line x1="660.1" x2="996.3" y1="538.85" y2="538.85" stroke="#EBEBEB" stroke-width="0.6"/>
<line x1="660.1" x2="996.3" y1="495.55" y2="495.55" stroke="#EBEBEB" stroke-width="0.6"/>
<line x1="660.1" x2="996.3" y1="452.25" y2="452.25" stroke="#EBEBEB" stroke-width="0.6"/>
<line x1="660.1" x2="996.3" y1="408.95" y2="408.95" stroke="#EBEBEB" stroke-width="0.6"/>
<line x1="660.1" x2="996.3" y1="365.65" y2="365.65" stroke="#EBEBEB" stroke-width="0.6"/>
<line y1="362.6" y2="546.5" x1="713.4" x2="713.4" stroke="#EBEBEB" stroke-width="0.6"/>
<line y1="362.6" y2="546.5" x1="790" x2="790" stroke="#EBEBEB" stroke-width="0.6"/>
<line y1="362.6" y2="546.5" x1="866.6" x2="866.6" stroke="#EBEBEB" stroke-width="0.6"/>
<line y1="362.6" y2="546.5" x1="943.2" x2="943.2" stroke="#EBEBEB" stroke-width="0.6"/>
<line x1="660.1" x2="996.3" y1="517.2" y2="517.2" stroke="#EBEBEB" stroke-width="1.0"/>
<line x1="660.1" x2="996.3" y1="473.9" y2="473.9" stroke="#EBEBEB" stroke-width="1.0"/>
<line x1="660.1" x2="996.3" y1="430.6" y2="430.6" stroke="#EBEBEB" stroke-width="1.0"/>
<line x1="660.1" x2="996.3" y1="387.3" y2="387.3" stroke="#EBEBEB" stroke-width="1.0"/>
<line y1="362.6" y2="546.5" x1="675.1" x2="675.1" stroke="#EBEBEB" stroke-width="1.0"/>
<line y1="362.6" y2="546.5" x1="751.7" x2="751.7" stroke="#EBEBEB" stroke-width="1.0"/>
<line y1="362.6" y2="546.5" x1="828.3" x2="828.3" stroke="#EBEBEB" stroke-width="1.0"/>
<line y1="362.6" y2="546.5" x1="904.9" x2="904.9" stroke="#EBEBEB" stroke-width="1.0"/>
<line y1="362.6" y2="546.5" x1="981.5" x2="981.5" stroke="#EBEBEB" stroke-width="1.0"/>
<g clip-path="url(#cIA)" fill="none" stroke-linejoin="round">
<path d="M675.1,491.18 L676.38,490.85 L677.66,490.51 L678.95,490.18 L680.23,489.84 L681.51,489.51 L682.79,489.17 L684.07,488.83 L685.36,488.5 L686.64,488.16 L687.92,487.82 L689.2,487.48 L690.48,487.14 L691.77,486.8 L693.05,486.47 L694.33,486.13 L695.61,485.79 L696.89,485.45 L698.18,485.11 L699.46,484.77 L700.74,484.42 L702.02,484.08 L703.3,483.74 L704.59,483.4 L705.87,483.06 L707.15,482.72 L708.43,482.37 L709.71,482.03 L711,481.69 L712.28,481.35 L713.56,481 L714.84,480.66 L716.12,480.31 L717.41,479.97 L718.69,479.63 L719.97,479.28 L721.25,478.94 L722.53,478.59 L723.82,478.25 L725.1,477.9 L726.38,477.56 L727.66,477.21 L728.94,476.87 L730.23,476.52 L731.51,476.18 L732.79,475.83 L734.07,475.48 L735.35,475.14 L736.64,474.79 L737.92,474.44 L739.2,474.1 L740.48,473.75 L741.76,473.4 L743.05,473.06 L744.33,472.71 L745.61,472.36 L746.89,472.01 L748.17,471.67 L749.46,471.32 L750.74,470.97 L752.02,470.62 L753.3,470.28 L754.58,469.93 L755.87,469.58 L757.15,469.23 L758.43,468.88 L759.71,468.54 L760.99,468.19 L762.28,467.84 L763.56,467.49 L764.84,467.14 L766.12,466.79 L767.4,466.45 L768.69,466.1 L769.97,465.75 L771.25,465.4 L772.53,465.05 L773.81,464.7 L775.1,464.36 L776.38,464.01 L777.66,463.66 L778.94,463.31 L780.22,462.96 L781.51,462.61 L782.79,462.27 L784.07,461.92 L785.35,461.57 L786.63,461.22 L787.92,460.87 L789.2,460.52 L790.48,460.18 L791.76,459.83 L793.04,459.48 L794.33,459.13 L795.61,458.79 L796.89,458.44 L798.17,458.09 L799.45,457.74 L800.74,457.39 L802.02,457.05 L803.3,456.7 L804.58,456.35 L805.86,456.01 L807.15,455.66 L808.43,455.31 L809.71,454.96 L810.99,454.62 L812.27,454.27 L813.56,453.92 L814.84,453.58 L816.12,453.23 L817.4,452.89 L818.68,452.54 L819.97,452.19 L821.25,451.85 L822.53,451.5 L823.81,451.16 L825.09,450.81 L826.38,450.47 L827.66,450.12 L828.94,449.78 L830.22,449.43 L831.51,449.09 L832.79,448.74 L834.07,448.4 L835.35,448.06 L836.63,447.71 L837.92,447.37 L839.2,447.03 L840.48,446.68 L841.76,446.34 L843.04,446 L844.33,445.66 L845.61,445.31 L846.89,444.97 L848.17,444.63 L849.45,444.29 L850.74,443.95 L852.02,443.6 L853.3,443.26 L854.58,442.92 L855.86,442.58 L857.15,442.24 L858.43,441.9 L859.71,441.56 L860.99,441.22 L862.27,440.88 L863.56,440.55 L864.84,440.21 L866.12,439.87 L867.4,439.53 L868.68,439.19 L869.97,438.85 L871.25,438.52 L872.53,438.18 L873.81,437.84 L875.09,437.51 L876.38,437.17 L877.66,436.84 L878.94,436.5 L880.22,436.16 L881.5,435.83 L882.79,435.49 L884.07,435.16 L885.35,434.83 L886.63,434.49 L887.91,434.16 L889.2,433.83 L890.48,433.49 L891.76,433.16 L893.04,432.83 L894.32,432.5 L895.61,432.16 L896.89,431.83 L898.17,431.5 L899.45,431.17 L900.73,430.84 L902.02,430.51 L903.3,430.18 L904.58,429.85 L905.86,429.52 L907.14,429.2 L908.43,428.87 L909.71,428.54 L910.99,428.21 L912.27,427.89 L913.55,427.56 L914.84,427.23 L916.12,426.91 L917.4,426.58 L918.68,426.26 L919.96,425.93 L921.25,425.61 L922.53,425.28 L923.81,424.96 L925.09,424.64 L926.37,424.31 L927.66,423.99 L928.94,423.67 L930.22,423.35 L931.5,423.03 L932.78,422.7 L934.07,422.38 L935.35,422.06 L936.63,421.74 L937.91,421.43 L939.19,421.11 L940.48,420.79 L941.76,420.47 L943.04,420.15 L944.32,419.83 L945.6,419.52 L946.89,419.2 L948.17,418.89 L949.45,418.57 L950.73,418.26 L952.01,417.94 L953.3,417.63 L954.58,417.31 L955.86,417 L957.14,416.69 L958.42,416.37 L959.71,416.06 L960.99,415.75 L962.27,415.44 L963.55,415.13 L964.83,414.82 L966.12,414.51 L967.4,414.2 L968.68,413.89 L969.96,413.58 L971.24,413.27 L972.53,412.96 L973.81,412.66 L975.09,412.35 L976.37,412.04 L977.65,411.74 L978.94,411.43 L980.22,411.13 L981.5,410.82" stroke="#D06A63" stroke-width="1.2" stroke-dasharray="3.8 3.8"/>
<path d="M675.1,536.55 L676.38,536.21 L677.66,535.86 L678.95,535.52 L680.23,535.17 L681.51,534.82 L682.79,534.48 L684.07,534.13 L685.36,533.78 L686.64,533.43 L687.92,533.09 L689.2,532.74 L690.48,532.39 L691.77,532.04 L693.05,531.69 L694.33,531.34 L695.61,530.99 L696.89,530.64 L698.18,530.29 L699.46,529.94 L700.74,529.59 L702.02,529.24 L703.3,528.89 L704.59,528.54 L705.87,528.18 L707.15,527.83 L708.43,527.48 L709.71,527.13 L711,526.78 L712.28,526.42 L713.56,526.07 L714.84,525.72 L716.12,525.36 L717.41,525.01 L718.69,524.66 L719.97,524.3 L721.25,523.95 L722.53,523.59 L723.82,523.24 L725.1,522.89 L726.38,522.53 L727.66,522.18 L728.94,521.82 L730.23,521.47 L731.51,521.11 L732.79,520.75 L734.07,520.4 L735.35,520.04 L736.64,519.69 L737.92,519.33 L739.2,518.98 L740.48,518.62 L741.76,518.26 L743.05,517.91 L744.33,517.55 L745.61,517.19 L746.89,516.84 L748.17,516.48 L749.46,516.12 L750.74,515.77 L752.02,515.41 L753.3,515.05 L754.58,514.7 L755.87,514.34 L757.15,513.98 L758.43,513.63 L759.71,513.27 L760.99,512.91 L762.28,512.56 L763.56,512.2 L764.84,511.84 L766.12,511.48 L767.4,511.13 L768.69,510.77 L769.97,510.41 L771.25,510.06 L772.53,509.7 L773.81,509.34 L775.1,508.98 L776.38,508.63 L777.66,508.27 L778.94,507.91 L780.22,507.56 L781.51,507.2 L782.79,506.84 L784.07,506.49 L785.35,506.13 L786.63,505.77 L787.92,505.41 L789.2,505.06 L790.48,504.7 L791.76,504.35 L793.04,503.99 L794.33,503.63 L795.61,503.28 L796.89,502.92 L798.17,502.56 L799.45,502.21 L800.74,501.85 L802.02,501.5 L803.3,501.14 L804.58,500.79 L805.86,500.43 L807.15,500.08 L808.43,499.72 L809.71,499.37 L810.99,499.01 L812.27,498.66 L813.56,498.3 L814.84,497.95 L816.12,497.59 L817.4,497.24 L818.68,496.88 L819.97,496.53 L821.25,496.18 L822.53,495.82 L823.81,495.47 L825.09,495.12 L826.38,494.76 L827.66,494.41 L828.94,494.06 L830.22,493.71 L831.51,493.35 L832.79,493 L834.07,492.65 L835.35,492.3 L836.63,491.95 L837.92,491.6 L839.2,491.25 L840.48,490.9 L841.76,490.54 L843.04,490.19 L844.33,489.84 L845.61,489.49 L846.89,489.15 L848.17,488.8 L849.45,488.45 L850.74,488.1 L852.02,487.75 L853.3,487.4 L854.58,487.05 L855.86,486.71 L857.15,486.36 L858.43,486.01 L859.71,485.66 L860.99,485.32 L862.27,484.97 L863.56,484.62 L864.84,484.28 L866.12,483.93 L867.4,483.59 L868.68,483.24 L869.97,482.9 L871.25,482.55 L872.53,482.21 L873.81,481.87 L875.09,481.52 L876.38,481.18 L877.66,480.84 L878.94,480.49 L880.22,480.15 L881.5,479.81 L882.79,479.47 L884.07,479.13 L885.35,478.79 L886.63,478.44 L887.91,478.1 L889.2,477.76 L890.48,477.43 L891.76,477.09 L893.04,476.75 L894.32,476.41 L895.61,476.07 L896.89,475.73 L898.17,475.4 L899.45,475.06 L900.73,474.72 L902.02,474.38 L903.3,474.05 L904.58,473.71 L905.86,473.38 L907.14,473.04 L908.43,472.71 L909.71,472.37 L910.99,472.04 L912.27,471.71 L913.55,471.37 L914.84,471.04 L916.12,470.71 L917.4,470.38 L918.68,470.05 L919.96,469.72 L921.25,469.38 L922.53,469.05 L923.81,468.72 L925.09,468.4 L926.37,468.07 L927.66,467.74 L928.94,467.41 L930.22,467.08 L931.5,466.75 L932.78,466.43 L934.07,466.1 L935.35,465.77 L936.63,465.45 L937.91,465.12 L939.19,464.8 L940.48,464.48 L941.76,464.15 L943.04,463.83 L944.32,463.5 L945.6,463.18 L946.89,462.86 L948.17,462.54 L949.45,462.22 L950.73,461.9 L952.01,461.58 L953.3,461.26 L954.58,460.94 L955.86,460.62 L957.14,460.3 L958.42,459.98 L959.71,459.66 L960.99,459.35 L962.27,459.03 L963.55,458.71 L964.83,458.4 L966.12,458.08 L967.4,457.77 L968.68,457.45 L969.96,457.14 L971.24,456.83 L972.53,456.51 L973.81,456.2 L975.09,455.89 L976.37,455.58 L977.65,455.27 L978.94,454.96 L980.22,454.65 L981.5,454.34" stroke="#D06A63" stroke-width="1.2" stroke-dasharray="3.8 3.8"/>
<path d="M675.1,513.87 L676.38,513.53 L677.66,513.19 L678.95,512.85 L680.23,512.51 L681.51,512.16 L682.79,511.82 L684.07,511.48 L685.36,511.14 L686.64,510.8 L687.92,510.45 L689.2,510.11 L690.48,509.77 L691.77,509.42 L693.05,509.08 L694.33,508.73 L695.61,508.39 L696.89,508.04 L698.18,507.7 L699.46,507.35 L700.74,507.01 L702.02,506.66 L703.3,506.32 L704.59,505.97 L705.87,505.62 L707.15,505.27 L708.43,504.93 L709.71,504.58 L711,504.23 L712.28,503.88 L713.56,503.54 L714.84,503.19 L716.12,502.84 L717.41,502.49 L718.69,502.14 L719.97,501.79 L721.25,501.44 L722.53,501.09 L723.82,500.74 L725.1,500.39 L726.38,500.04 L727.66,499.69 L728.94,499.34 L730.23,498.99 L731.51,498.64 L732.79,498.29 L734.07,497.94 L735.35,497.59 L736.64,497.24 L737.92,496.89 L739.2,496.54 L740.48,496.19 L741.76,495.83 L743.05,495.48 L744.33,495.13 L745.61,494.78 L746.89,494.43 L748.17,494.07 L749.46,493.72 L750.74,493.37 L752.02,493.02 L753.3,492.67 L754.58,492.31 L755.87,491.96 L757.15,491.61 L758.43,491.26 L759.71,490.9 L760.99,490.55 L762.28,490.2 L763.56,489.84 L764.84,489.49 L766.12,489.14 L767.4,488.79 L768.69,488.43 L769.97,488.08 L771.25,487.73 L772.53,487.38 L773.81,487.02 L775.1,486.67 L776.38,486.32 L777.66,485.96 L778.94,485.61 L780.22,485.26 L781.51,484.91 L782.79,484.55 L784.07,484.2 L785.35,483.85 L786.63,483.5 L787.92,483.14 L789.2,482.79 L790.48,482.44 L791.76,482.09 L793.04,481.73 L794.33,481.38 L795.61,481.03 L796.89,480.68 L798.17,480.33 L799.45,479.98 L800.74,479.62 L802.02,479.27 L803.3,478.92 L804.58,478.57 L805.86,478.22 L807.15,477.87 L808.43,477.52 L809.71,477.16 L810.99,476.81 L812.27,476.46 L813.56,476.11 L814.84,475.76 L816.12,475.41 L817.4,475.06 L818.68,474.71 L819.97,474.36 L821.25,474.01 L822.53,473.66 L823.81,473.31 L825.09,472.96 L826.38,472.62 L827.66,472.27 L828.94,471.92 L830.22,471.57 L831.51,471.22 L832.79,470.87 L834.07,470.53 L835.35,470.18 L836.63,469.83 L837.92,469.48 L839.2,469.14 L840.48,468.79 L841.76,468.44 L843.04,468.1 L844.33,467.75 L845.61,467.4 L846.89,467.06 L848.17,466.71 L849.45,466.37 L850.74,466.02 L852.02,465.68 L853.3,465.33 L854.58,464.99 L855.86,464.64 L857.15,464.3 L858.43,463.96 L859.71,463.61 L860.99,463.27 L862.27,462.93 L863.56,462.58 L864.84,462.24 L866.12,461.9 L867.4,461.56 L868.68,461.22 L869.97,460.88 L871.25,460.54 L872.53,460.19 L873.81,459.85 L875.09,459.51 L876.38,459.18 L877.66,458.84 L878.94,458.5 L880.22,458.16 L881.5,457.82 L882.79,457.48 L884.07,457.14 L885.35,456.81 L886.63,456.47 L887.91,456.13 L889.2,455.8 L890.48,455.46 L891.76,455.12 L893.04,454.79 L894.32,454.45 L895.61,454.12 L896.89,453.78 L898.17,453.45 L899.45,453.12 L900.73,452.78 L902.02,452.45 L903.3,452.12 L904.58,451.78 L905.86,451.45 L907.14,451.12 L908.43,450.79 L909.71,450.46 L910.99,450.13 L912.27,449.8 L913.55,449.47 L914.84,449.14 L916.12,448.81 L917.4,448.48 L918.68,448.15 L919.96,447.82 L921.25,447.5 L922.53,447.17 L923.81,446.84 L925.09,446.52 L926.37,446.19 L927.66,445.86 L928.94,445.54 L930.22,445.21 L931.5,444.89 L932.78,444.57 L934.07,444.24 L935.35,443.92 L936.63,443.6 L937.91,443.27 L939.19,442.95 L940.48,442.63 L941.76,442.31 L943.04,441.99 L944.32,441.67 L945.6,441.35 L946.89,441.03 L948.17,440.71 L949.45,440.39 L950.73,440.08 L952.01,439.76 L953.3,439.44 L954.58,439.12 L955.86,438.81 L957.14,438.49 L958.42,438.18 L959.71,437.86 L960.99,437.55 L962.27,437.23 L963.55,436.92 L964.83,436.61 L966.12,436.3 L967.4,435.98 L968.68,435.67 L969.96,435.36 L971.24,435.05 L972.53,434.74 L973.81,434.43 L975.09,434.12 L976.37,433.81 L977.65,433.5 L978.94,433.19 L980.22,432.89 L981.5,432.58" stroke="#E2635B" stroke-width="1.9"/>
<path d="M675.1,440.58 L675.58,440.3 L676.06,440.03 L676.54,439.75 L677.02,439.47 L677.5,439.2 L677.98,438.92 L678.47,438.65 L678.95,438.37 L679.43,438.09 L679.91,437.82 L680.39,437.54 L680.87,437.26 L681.35,436.98 L681.83,436.71 L682.31,436.43 L682.79,436.15 L683.27,435.87 L683.75,435.59 L684.23,435.32 L684.72,435.04 L685.2,434.76 L685.68,434.48 L686.16,434.2 L686.64,433.92 L687.12,433.64 L687.6,433.36 L688.08,433.08 L688.56,432.8 L689.04,432.52 L689.52,432.24 L690,431.96 L690.48,431.68 L690.96,431.4 L691.45,431.12 L691.93,430.84 L692.41,430.56 L692.89,430.28 L693.37,430 L693.85,429.72 L694.33,429.43 L694.81,429.15 L695.29,428.87 L695.77,428.59 L696.25,428.31 L696.73,428.03 L697.21,427.74 L697.7,427.46 L698.18,427.18 L698.66,426.9 L699.14,426.61 L699.62,426.33 L700.1,426.05 L700.58,425.76 L701.06,425.48 L701.54,425.2 L702.02,424.91 L702.5,424.63 L702.98,424.35 L703.46,424.06 L703.95,423.78 L704.43,423.5 L704.91,423.21 L705.39,422.93 L705.87,422.65 L706.35,422.36 L706.83,422.08 L707.31,421.79 L707.79,421.51 L708.27,421.22 L708.75,420.94 L709.23,420.65 L709.71,420.37 L710.19,420.08 L710.68,419.8 L711.16,419.51 L711.64,419.23 L712.12,418.94 L712.6,418.66 L713.08,418.37 L713.56,418.09 L714.04,417.8 L714.52,417.52 L715,417.23 L715.48,416.95 L715.96,416.66 L716.44,416.38 L716.93,416.09 L717.41,415.8 L717.89,415.52 L718.37,415.23 L718.85,414.95 L719.33,414.66 L719.81,414.37 L720.29,414.09 L720.77,413.8 L721.25,413.52 L721.73,413.23 L722.21,412.94 L722.69,412.66 L723.18,412.37 L723.66,412.08 L724.14,411.8 L724.62,411.51 L725.1,411.22 L725.58,410.94 L726.06,410.65 L726.54,410.37 L727.02,410.08 L727.5,409.79 L727.98,409.51 L728.46,409.22 L728.94,408.93 L729.43,408.64 L729.91,408.36 L730.39,408.07 L730.87,407.78 L731.35,407.5 L731.83,407.21 L732.31,406.92 L732.79,406.64 L733.27,406.35 L733.75,406.06 L734.23,405.78 L734.71,405.49 L735.19,405.2 L735.67,404.92 L736.16,404.63 L736.64,404.34 L737.12,404.06 L737.6,403.77 L738.08,403.48 L738.56,403.19 L739.04,402.91 L739.52,402.62 L740,402.33 L740.48,402.05 L740.96,401.76 L741.44,401.47 L741.92,401.19 L742.41,400.9 L742.89,400.61 L743.37,400.33 L743.85,400.04 L744.33,399.75 L744.81,399.47 L745.29,399.18 L745.77,398.89 L746.25,398.61 L746.73,398.32 L747.21,398.03 L747.69,397.75 L748.17,397.46 L748.66,397.17 L749.14,396.89 L749.62,396.6 L750.1,396.31 L750.58,396.03 L751.06,395.74 L751.54,395.46 L752.02,395.17 L752.5,394.88 L752.98,394.6 L753.46,394.31 L753.94,394.02 L754.42,393.74 L754.91,393.45 L755.39,393.17 L755.87,392.88 L756.35,392.6 L756.83,392.31 L757.31,392.02 L757.79,391.74 L758.27,391.45 L758.75,391.17 L759.23,390.88 L759.71,390.6 L760.19,390.31 L760.67,390.03 L761.15,389.74 L761.64,389.46 L762.12,389.17 L762.6,388.89 L763.08,388.6 L763.56,388.32 L764.04,388.03 L764.52,387.75 L765,387.46 L765.48,387.18 L765.96,386.89 L766.44,386.61 L766.92,386.32 L767.4,386.04 L767.89,385.75 L768.37,385.47 L768.85,385.19 L769.33,384.9 L769.81,384.62 L770.29,384.34 L770.77,384.05 L771.25,383.77 L771.73,383.48 L772.21,383.2 L772.69,382.92 L773.17,382.63 L773.65,382.35 L774.14,382.07 L774.62,381.79 L775.1,381.5 L775.58,381.22 L776.06,380.94 L776.54,380.65 L777.02,380.37 L777.5,380.09 L777.98,379.81 L778.46,379.53 L778.94,379.24 L779.42,378.96 L779.9,378.68 L780.38,378.4 L780.87,378.12 L781.35,377.83 L781.83,377.55 L782.31,377.27 L782.79,376.99 L783.27,376.71 L783.75,376.43 L784.23,376.15 L784.71,375.87 L785.19,375.59 L785.67,375.31 L786.15,375.03 L786.63,374.75 L787.12,374.47 L787.6,374.19 L788.08,373.91 L788.56,373.63 L789.04,373.35 L789.52,373.07 L790,372.79" stroke="#34B3B7" stroke-width="1.2" stroke-dasharray="3.8 3.8"/>
<path d="M675.1,535.73 L676.38,534.98 L677.66,534.24 L678.95,533.49 L680.23,532.74 L681.51,531.99 L682.79,531.24 L684.07,530.49 L685.36,529.74 L686.64,528.98 L687.92,528.23 L689.2,527.47 L690.48,526.71 L691.77,525.95 L693.05,525.19 L694.33,524.43 L695.61,523.67 L696.89,522.9 L698.18,522.14 L699.46,521.37 L700.74,520.61 L702.02,519.84 L703.3,519.07 L704.59,518.3 L705.87,517.53 L707.15,516.76 L708.43,515.99 L709.71,515.22 L711,514.45 L712.28,513.67 L713.56,512.9 L714.84,512.12 L716.12,511.35 L717.41,510.57 L718.69,509.8 L719.97,509.02 L721.25,508.24 L722.53,507.47 L723.82,506.69 L725.1,505.91 L726.38,505.13 L727.66,504.35 L728.94,503.57 L730.23,502.79 L731.51,502.01 L732.79,501.23 L734.07,500.45 L735.35,499.67 L736.64,498.89 L737.92,498.11 L739.2,497.33 L740.48,496.55 L741.76,495.77 L743.05,494.99 L744.33,494.21 L745.61,493.43 L746.89,492.65 L748.17,491.87 L749.46,491.09 L750.74,490.31 L752.02,489.53 L753.3,488.75 L754.58,487.97 L755.87,487.19 L757.15,486.41 L758.43,485.63 L759.71,484.86 L760.99,484.08 L762.28,483.3 L763.56,482.52 L764.84,481.75 L766.12,480.97 L767.4,480.2 L768.69,479.42 L769.97,478.65 L771.25,477.87 L772.53,477.1 L773.81,476.33 L775.1,475.55 L776.38,474.78 L777.66,474.01 L778.94,473.24 L780.22,472.47 L781.51,471.7 L782.79,470.93 L784.07,470.17 L785.35,469.4 L786.63,468.63 L787.92,467.87 L789.2,467.1 L790.48,466.34 L791.76,465.58 L793.04,464.82 L794.33,464.06 L795.61,463.3 L796.89,462.54 L798.17,461.78 L799.45,461.02 L800.74,460.27 L802.02,459.51 L803.3,458.76 L804.58,458.01 L805.86,457.25 L807.15,456.5 L808.43,455.75 L809.71,455.01 L810.99,454.26 L812.27,453.51 L813.56,452.77 L814.84,452.02 L816.12,451.28 L817.4,450.54 L818.68,449.8 L819.97,449.06 L821.25,448.32 L822.53,447.59 L823.81,446.85 L825.09,446.12 L826.38,445.39 L827.66,444.66 L828.94,443.93 L830.22,443.2 L831.51,442.47 L832.79,441.75 L834.07,441.02 L835.35,440.3 L836.63,439.58 L837.92,438.86 L839.2,438.14 L840.48,437.43 L841.76,436.71 L843.04,436 L844.33,435.28 L845.61,434.57 L846.89,433.86 L848.17,433.16 L849.45,432.45 L850.74,431.75 L852.02,431.04 L853.3,430.34 L854.58,429.64 L855.86,428.95 L857.15,428.25 L858.43,427.56 L859.71,426.86 L860.99,426.17 L862.27,425.48 L863.56,424.79 L864.84,424.11 L866.12,423.42 L867.4,422.74 L868.68,422.06 L869.97,421.38 L871.25,420.7 L872.53,420.03 L873.81,419.35 L875.09,418.68 L876.38,418.01 L877.66,417.34 L878.94,416.67 L880.22,416.01 L881.5,415.34 L882.79,414.68 L884.07,414.02 L885.35,413.36 L886.63,412.71 L887.91,412.05 L889.2,411.4 L890.48,410.75 L891.76,410.1 L893.04,409.45 L894.32,408.81 L895.61,408.17 L896.89,407.52 L898.17,406.88 L899.45,406.25 L900.73,405.61 L902.02,404.98 L903.3,404.34 L904.58,403.71 L905.86,403.09 L907.14,402.46 L908.43,401.84 L909.71,401.21 L910.99,400.59 L912.27,399.97 L913.55,399.36 L914.84,398.74 L916.12,398.13 L917.4,397.52 L918.68,396.91 L919.96,396.3 L921.25,395.7 L922.53,395.1 L923.81,394.49 L925.09,393.9 L926.37,393.3 L927.66,392.7 L928.94,392.11 L930.22,391.52 L931.5,390.93 L932.78,390.34 L934.07,389.76 L935.35,389.17 L936.63,388.59 L937.91,388.01 L939.19,387.44 L940.48,386.86 L941.76,386.29 L943.04,385.72 L944.32,385.15 L945.6,384.58 L946.89,384.01 L948.17,383.45 L949.45,382.89 L950.73,382.33 L952.01,381.77 L953.3,381.22 L954.58,380.66 L955.86,380.11 L957.14,379.56 L958.42,379.02 L959.71,378.47 L960.99,377.93 L962.27,377.39 L963.55,376.85 L964.83,376.31 L966.12,375.77 L967.4,375.24 L968.68,374.71 L969.96,374.18 L971.24,373.65 L972.53,373.13 L973.81,372.6 L975.09,372.08 L976.37,371.56 L977.65,371.04 L978.94,370.53 L980.22,370.02 L981.5,369.5" stroke="#34B3B7" stroke-width="1.2" stroke-dasharray="3.8 3.8"/>
<path d="M675.1,488.15 L675.95,487.66 L676.8,487.17 L677.65,486.68 L678.5,486.19 L679.35,485.7 L680.2,485.21 L681.05,484.71 L681.89,484.22 L682.74,483.72 L683.59,483.23 L684.44,482.73 L685.29,482.24 L686.14,481.74 L686.99,481.25 L687.84,480.75 L688.69,480.25 L689.54,479.75 L690.39,479.25 L691.24,478.75 L692.09,478.25 L692.94,477.75 L693.79,477.25 L694.63,476.75 L695.48,476.25 L696.33,475.75 L697.18,475.25 L698.03,474.74 L698.88,474.24 L699.73,473.74 L700.58,473.23 L701.43,472.73 L702.28,472.22 L703.13,471.72 L703.98,471.21 L704.83,470.71 L705.68,470.2 L706.53,469.7 L707.37,469.19 L708.22,468.68 L709.07,468.18 L709.92,467.67 L710.77,467.16 L711.62,466.65 L712.47,466.15 L713.32,465.64 L714.17,465.13 L715.02,464.62 L715.87,464.11 L716.72,463.6 L717.57,463.09 L718.42,462.58 L719.27,462.07 L720.11,461.56 L720.96,461.05 L721.81,460.54 L722.66,460.03 L723.51,459.52 L724.36,459.01 L725.21,458.5 L726.06,457.99 L726.91,457.48 L727.76,456.97 L728.61,456.45 L729.46,455.94 L730.31,455.43 L731.16,454.92 L732.01,454.41 L732.85,453.9 L733.7,453.39 L734.55,452.87 L735.4,452.36 L736.25,451.85 L737.1,451.34 L737.95,450.83 L738.8,450.31 L739.65,449.8 L740.5,449.29 L741.35,448.78 L742.2,448.27 L743.05,447.75 L743.9,447.24 L744.75,446.73 L745.59,446.22 L746.44,445.71 L747.29,445.2 L748.14,444.68 L748.99,444.17 L749.84,443.66 L750.69,443.15 L751.54,442.64 L752.39,442.13 L753.24,441.62 L754.09,441.11 L754.94,440.6 L755.79,440.08 L756.64,439.57 L757.49,439.06 L758.33,438.55 L759.18,438.04 L760.03,437.53 L760.88,437.02 L761.73,436.51 L762.58,436.01 L763.43,435.5 L764.28,434.99 L765.13,434.48 L765.98,433.97 L766.83,433.46 L767.68,432.95 L768.53,432.45 L769.38,431.94 L770.23,431.43 L771.07,430.93 L771.92,430.42 L772.77,429.91 L773.62,429.41 L774.47,428.9 L775.32,428.39 L776.17,427.89 L777.02,427.38 L777.87,426.88 L778.72,426.37 L779.57,425.87 L780.42,425.37 L781.27,424.86 L782.12,424.36 L782.96,423.86 L783.81,423.36 L784.66,422.85 L785.51,422.35 L786.36,421.85 L787.21,421.35 L788.06,420.85 L788.91,420.35 L789.76,419.85 L790.61,419.35 L791.46,418.85 L792.31,418.35 L793.16,417.85 L794.01,417.36 L794.86,416.86 L795.7,416.36 L796.55,415.86 L797.4,415.37 L798.25,414.87 L799.1,414.38 L799.95,413.88 L800.8,413.39 L801.65,412.89 L802.5,412.4 L803.35,411.91 L804.2,411.42 L805.05,410.92 L805.9,410.43 L806.75,409.94 L807.6,409.45 L808.44,408.96 L809.29,408.47 L810.14,407.98 L810.99,407.49 L811.84,407 L812.69,406.52 L813.54,406.03 L814.39,405.54 L815.24,405.06 L816.09,404.57 L816.94,404.09 L817.79,403.6 L818.64,403.12 L819.49,402.64 L820.34,402.15 L821.18,401.67 L822.03,401.19 L822.88,400.71 L823.73,400.23 L824.58,399.75 L825.43,399.27 L826.28,398.79 L827.13,398.31 L827.98,397.84 L828.83,397.36 L829.68,396.88 L830.53,396.41 L831.38,395.93 L832.23,395.46 L833.08,394.98 L833.92,394.51 L834.77,394.04 L835.62,393.57 L836.47,393.1 L837.32,392.63 L838.17,392.16 L839.02,391.69 L839.87,391.22 L840.72,390.75 L841.57,390.28 L842.42,389.82 L843.27,389.35 L844.12,388.88 L844.97,388.42 L845.82,387.96 L846.66,387.49 L847.51,387.03 L848.36,386.57 L849.21,386.11 L850.06,385.65 L850.91,385.19 L851.76,384.73 L852.61,384.27 L853.46,383.81 L854.31,383.35 L855.16,382.9 L856.01,382.44 L856.86,381.99 L857.71,381.53 L858.56,381.08 L859.4,380.63 L860.25,380.17 L861.1,379.72 L861.95,379.27 L862.8,378.82 L863.65,378.37 L864.5,377.92 L865.35,377.48 L866.2,377.03 L867.05,376.58 L867.9,376.14 L868.75,375.69 L869.6,375.25 L870.45,374.81 L871.3,374.36 L872.14,373.92 L872.99,373.48 L873.84,373.04 L874.69,372.6 L875.54,372.16 L876.39,371.72 L877.24,371.29 L878.09,370.85" stroke="#16ADB2" stroke-width="1.9"/>
</g>
<g>
<circle cx="675.1" cy="507.24" r="3.2" fill="#F8766D" fill-opacity="0.5"/>
<circle cx="751.7" cy="482.56" r="3.2" fill="#F8766D" fill-opacity="0.5"/>
<circle cx="828.3" cy="470.44" r="3.2" fill="#F8766D" fill-opacity="0.5"/>
<circle cx="904.9" cy="452.25" r="3.2" fill="#F8766D" fill-opacity="0.5"/>
<circle cx="981.5" cy="434.5" r="3.2" fill="#F8766D" fill-opacity="0.5"/>
<circle cx="675.1" cy="470.87" r="3.2" fill="#00BFC4" fill-opacity="0.5"/>
<circle cx="751.7" cy="444.89" r="3.2" fill="#00BFC4" fill-opacity="0.5"/>
<circle cx="828.3" cy="419.78" r="3.2" fill="#00BFC4" fill-opacity="0.5"/>
<circle cx="904.9" cy="385.57" r="3.2" fill="#00BFC4" fill-opacity="0.5"/>
</g>
<line x1="660.1" x2="996.3" y1="362.6" y2="362.6" stroke="#8a8a8a" stroke-width="1.2"/>
<line x1="660.1" x2="996.3" y1="546.5" y2="546.5" stroke="#555" stroke-width="1.3"/>
<line x1="996.3" x2="996.3" y1="362.6" y2="546.5" stroke="#777" stroke-width="1.2"/>
<line x1="675.1" x2="675.1" y1="546.5" y2="549.5" stroke="#333" stroke-width="1.2"/>
<text x="675.1" y="559.6" font-size="9.2" text-anchor="middle" fill="#404040">5</text>
<line x1="751.7" x2="751.7" y1="546.5" y2="549.5" stroke="#333" stroke-width="1.2"/>
<text x="751.7" y="559.6" font-size="9.2" text-anchor="middle" fill="#404040">6</text>
<line x1="828.3" x2="828.3" y1="546.5" y2="549.5" stroke="#333" stroke-width="1.2"/>
<text x="828.3" y="559.6" font-size="9.2" text-anchor="middle" fill="#404040">7</text>
<line x1="904.9" x2="904.9" y1="546.5" y2="549.5" stroke="#333" stroke-width="1.2"/>
<text x="904.9" y="559.6" font-size="9.2" text-anchor="middle" fill="#404040">8</text>
<line x1="981.5" x2="981.5" y1="546.5" y2="549.5" stroke="#333" stroke-width="1.2"/>
<text x="981.5" y="559.6" font-size="9.2" text-anchor="middle" fill="#404040">9</text>
<line x1="657.1" x2="660.1" y1="517.2" y2="517.2" stroke="#333" stroke-width="1.2"/>
<text x="654" y="520.1" font-size="9.6" text-anchor="end" fill="#404040">2e+06</text>
<line x1="657.1" x2="660.1" y1="473.9" y2="473.9" stroke="#333" stroke-width="1.2"/>
<text x="654" y="476.8" font-size="9.6" text-anchor="end" fill="#404040">3e+06</text>
<line x1="657.1" x2="660.1" y1="430.6" y2="430.6" stroke="#333" stroke-width="1.2"/>
<text x="654" y="433.5" font-size="9.6" text-anchor="end" fill="#404040">4e+06</text>
<line x1="657.1" x2="660.1" y1="387.3" y2="387.3" stroke="#333" stroke-width="1.2"/>
<text x="654" y="390.2" font-size="9.6" text-anchor="end" fill="#404040">5e+06</text>
<text x="828.2" y="572.5" font-size="12.5" text-anchor="middle" fill="#000">Time (h)</text>
<text transform="translate(622.4,454.6) rotate(-90)" font-size="12" text-anchor="middle" fill="#000">CFU/mL</text>
<text x="607.2" y="665.9" font-size="29.6" text-anchor="middle" fill="#000">Time (h)</text>
<text transform="translate(66.8,307.2) rotate(-90)" font-size="28.5" text-anchor="middle" fill="#000">CFU/mL</text>
<text transform="translate(0.2,30) scale(0.91,1)" x="0" y="0" font-size="44" font-weight="bold" fill="#000">a</text>
<line x1="404.2" x2="416" y1="723.6" y2="723.6" stroke="#F8766D" stroke-opacity="0.5" stroke-width="1.6"/>
<circle cx="410.1" cy="723.6" r="3" fill="#F8766D" fill-opacity="0.5"/>
<text x="432.3" y="728.2" font-size="23.6" fill="#000">with postbiotics</text>
<line x1="601.4" x2="613.2" y1="723.6" y2="723.6" stroke="#00BFC4" stroke-opacity="0.5" stroke-width="1.6"/>
<circle cx="607.3" cy="723.6" r="3" fill="#00BFC4" fill-opacity="0.5"/>
<text x="630" y="728.2" font-size="23.6" fill="#000">without postbiotics</text>
<rect x="168.7" y="757.8" width="873.1" height="590.8" fill="#fff"/>
<line x1="168.7" x2="1041.8" y1="1264.2" y2="1264.2" stroke="#EBEBEB" stroke-width="1.5"/>
<line x1="168.7" x2="1041.8" y1="1148.6" y2="1148.6" stroke="#EBEBEB" stroke-width="1.5"/>
<line x1="168.7" x2="1041.8" y1="1033" y2="1033" stroke="#EBEBEB" stroke-width="1.5"/>
<line x1="168.7" x2="1041.8" y1="917.4" y2="917.4" stroke="#EBEBEB" stroke-width="1.5"/>
<line x1="168.7" x2="1041.8" y1="801.8" y2="801.8" stroke="#EBEBEB" stroke-width="1.5"/>
<line y1="757.8" y2="1348.6" x1="290.85" x2="290.85" stroke="#EBEBEB" stroke-width="1.5"/>
<line y1="757.8" y2="1348.6" x1="456.35" x2="456.35" stroke="#EBEBEB" stroke-width="1.5"/>
<line y1="757.8" y2="1348.6" x1="621.85" x2="621.85" stroke="#EBEBEB" stroke-width="1.5"/>
<line y1="757.8" y2="1348.6" x1="787.35" x2="787.35" stroke="#EBEBEB" stroke-width="1.5"/>
<line y1="757.8" y2="1348.6" x1="952.85" x2="952.85" stroke="#EBEBEB" stroke-width="1.5"/>
<line x1="168.7" x2="1041.8" y1="1322" y2="1322" stroke="#EBEBEB" stroke-width="2.3"/>
<line x1="168.7" x2="1041.8" y1="1206.4" y2="1206.4" stroke="#EBEBEB" stroke-width="2.3"/>
<line x1="168.7" x2="1041.8" y1="1090.8" y2="1090.8" stroke="#EBEBEB" stroke-width="2.3"/>
<line x1="168.7" x2="1041.8" y1="975.2" y2="975.2" stroke="#EBEBEB" stroke-width="2.3"/>
<line x1="168.7" x2="1041.8" y1="859.6" y2="859.6" stroke="#EBEBEB" stroke-width="2.3"/>
<line y1="757.8" y2="1348.6" x1="208.1" x2="208.1" stroke="#EBEBEB" stroke-width="2.3"/>
<line y1="757.8" y2="1348.6" x1="373.6" x2="373.6" stroke="#EBEBEB" stroke-width="2.3"/>
<line y1="757.8" y2="1348.6" x1="539.1" x2="539.1" stroke="#EBEBEB" stroke-width="2.3"/>
<line y1="757.8" y2="1348.6" x1="704.6" x2="704.6" stroke="#EBEBEB" stroke-width="2.3"/>
<line y1="757.8" y2="1348.6" x1="870.1" x2="870.1" stroke="#EBEBEB" stroke-width="2.3"/>
<line y1="757.8" y2="1348.6" x1="1035.6" x2="1035.6" stroke="#EBEBEB" stroke-width="2.3"/>
<g clip-path="url(#cB)" fill="none" stroke-linejoin="round">
<path d="M208.1,1242.64 L210.3,1242.53 L212.5,1242.4 L214.7,1242.26 L216.9,1242.1 L219.1,1241.93 L221.3,1241.75 L223.5,1241.56 L225.71,1241.35 L227.91,1241.12 L230.11,1240.88 L232.31,1240.62 L234.51,1240.34 L236.71,1240.04 L238.91,1239.72 L241.11,1239.39 L243.31,1239.03 L245.51,1238.65 L247.71,1238.25 L249.91,1237.83 L252.11,1237.38 L254.31,1236.91 L256.51,1236.41 L258.72,1235.89 L260.92,1235.35 L263.12,1234.78 L265.32,1234.18 L267.52,1233.55 L269.72,1232.9 L271.92,1232.22 L274.12,1231.51 L276.32,1230.77 L278.52,1230 L280.72,1229.21 L282.92,1228.38 L285.12,1227.53 L287.32,1226.64 L289.52,1225.72 L291.73,1224.78 L293.93,1223.8 L296.13,1222.79 L298.33,1221.75 L300.53,1220.69 L302.73,1219.59 L304.93,1218.46 L307.13,1217.3 L309.33,1216.11 L311.53,1214.9 L313.73,1213.65 L315.93,1212.37 L318.13,1211.07 L320.33,1209.74 L322.53,1208.38 L324.74,1206.99 L326.94,1205.58 L329.14,1204.14 L331.34,1202.68 L333.54,1201.19 L335.74,1199.68 L337.94,1198.14 L340.14,1196.58 L342.34,1195 L344.54,1193.4 L346.74,1191.78 L348.94,1190.14 L351.14,1188.48 L353.34,1186.8 L355.54,1185.1 L357.75,1183.39 L359.95,1181.66 L362.15,1179.92 L364.35,1178.16 L366.55,1176.39 L368.75,1174.61 L370.95,1172.82 L373.15,1171.01 L375.35,1169.2 L377.55,1167.38 L379.75,1165.55 L381.95,1163.71 L384.15,1161.87 L386.35,1160.02 L388.55,1158.17 L390.76,1156.31 L392.96,1154.45 L395.16,1152.59 L397.36,1150.73 L399.56,1148.87 L401.76,1147.01 L403.96,1145.15 L406.16,1143.29 L408.36,1141.44 L410.56,1139.59 L412.76,1137.74 L414.96,1135.9 L417.16,1134.06 L419.36,1132.23 L421.56,1130.4 L423.77,1128.59 L425.97,1126.78 L428.17,1124.98 L430.37,1123.19 L432.57,1121.4 L434.77,1119.63 L436.97,1117.87 L439.17,1116.12 L441.37,1114.38 L443.57,1112.66 L445.77,1110.94 L447.97,1109.24 L450.17,1107.55 L452.37,1105.87 L454.57,1104.21 L456.78,1102.56 L458.98,1100.93 L461.18,1099.31 L463.38,1097.71 L465.58,1096.12 L467.78,1094.55 L469.98,1092.99 L472.18,1091.45 L474.38,1089.92 L476.58,1088.41 L478.78,1086.91 L480.98,1085.44 L483.18,1083.98 L485.38,1082.53 L487.58,1081.1 L489.79,1079.69 L491.99,1078.3 L494.19,1076.92 L496.39,1075.56 L498.59,1074.22 L500.79,1072.89 L502.99,1071.58 L505.19,1070.29 L507.39,1069.01 L509.59,1067.75 L511.79,1066.51 L513.99,1065.28 L516.19,1064.07 L518.39,1062.88 L520.59,1061.71 L522.8,1060.55 L525,1059.41 L527.2,1058.28 L529.4,1057.17 L531.6,1056.08 L533.8,1055 L536,1053.94 L538.2,1052.89 L540.4,1051.86 L542.6,1050.85 L544.8,1049.85 L547,1048.87 L549.2,1047.9 L551.4,1046.95 L553.6,1046.01 L555.81,1045.09 L558.01,1044.18 L560.21,1043.28 L562.41,1042.4 L564.61,1041.54 L566.81,1040.69 L569.01,1039.85 L571.21,1039.03 L573.41,1038.22 L575.61,1037.42 L577.81,1036.64 L580.01,1035.86 L582.21,1035.11 L584.41,1034.36 L586.61,1033.63 L588.82,1032.91 L591.02,1032.2 L593.22,1031.51 L595.42,1030.82 L597.62,1030.15 L599.82,1029.49 L602.02,1028.84 L604.22,1028.2 L606.42,1027.58 L608.62,1026.96 L610.82,1026.35 L613.02,1025.76 L615.22,1025.17 L617.42,1024.6 L619.62,1024.04 L621.83,1023.48 L624.03,1022.94 L626.23,1022.4 L628.43,1021.88 L630.63,1021.36 L632.83,1020.86 L635.03,1020.36 L637.23,1019.87 L639.43,1019.39 L641.63,1018.92 L643.83,1018.45 L646.03,1018 L648.23,1017.55 L650.43,1017.11 L652.63,1016.68 L654.84,1016.26 L657.04,1015.84 L659.24,1015.43 L661.44,1015.03 L663.64,1014.64 L665.84,1014.25 L668.04,1013.87 L670.24,1013.5 L672.44,1013.13 L674.64,1012.77 L676.84,1012.42 L679.04,1012.07 L681.24,1011.73 L683.44,1011.39 L685.64,1011.06 L687.85,1010.74 L690.05,1010.42 L692.25,1010.11 L694.45,1009.8 L696.65,1009.5 L698.85,1009.21 L701.05,1008.92 L703.25,1008.63 L705.45,1008.35 L707.65,1008.07 L709.85,1007.8 L712.05,1007.54 L714.25,1007.28 L716.45,1007.02 L718.65,1006.77 L720.86,1006.52 L723.06,1006.27 L725.26,1006.03 L727.46,1005.8 L729.66,1005.57 L731.86,1005.34 L734.06,1005.11" stroke="#D06A63" stroke-width="1.35" stroke-dasharray="4.4 4.4"/>
<path d="M208.1,1319.76 L210.3,1319.58 L212.5,1319.38 L214.7,1319.17 L216.9,1318.95 L219.1,1318.71 L221.3,1318.47 L223.5,1318.2 L225.71,1317.93 L227.91,1317.64 L230.11,1317.33 L232.31,1317 L234.51,1316.66 L236.71,1316.3 L238.91,1315.92 L241.11,1315.52 L243.31,1315.1 L245.51,1314.66 L247.71,1314.2 L249.91,1313.72 L252.11,1313.21 L254.31,1312.68 L256.51,1312.13 L258.72,1311.55 L260.92,1310.95 L263.12,1310.32 L265.32,1309.67 L267.52,1308.98 L269.72,1308.28 L271.92,1307.54 L274.12,1306.78 L276.32,1305.98 L278.52,1305.16 L280.72,1304.31 L282.92,1303.43 L285.12,1302.52 L287.32,1301.59 L289.52,1300.62 L291.73,1299.62 L293.93,1298.59 L296.13,1297.54 L298.33,1296.45 L300.53,1295.33 L302.73,1294.19 L304.93,1293.01 L307.13,1291.81 L309.33,1290.57 L311.53,1289.31 L313.73,1288.02 L315.93,1286.7 L318.13,1285.35 L320.33,1283.97 L322.53,1282.57 L324.74,1281.14 L326.94,1279.69 L329.14,1278.2 L331.34,1276.7 L333.54,1275.17 L335.74,1273.62 L337.94,1272.04 L340.14,1270.44 L342.34,1268.82 L344.54,1267.18 L346.74,1265.52 L348.94,1263.84 L351.14,1262.15 L353.34,1260.43 L355.54,1258.7 L357.75,1256.95 L359.95,1255.19 L362.15,1253.41 L364.35,1251.62 L366.55,1249.81 L368.75,1248 L370.95,1246.17 L373.15,1244.34 L375.35,1242.49 L377.55,1240.64 L379.75,1238.78 L381.95,1236.91 L384.15,1235.04 L386.35,1233.17 L388.55,1231.29 L390.76,1229.4 L392.96,1227.52 L395.16,1225.63 L397.36,1223.74 L399.56,1221.86 L401.76,1219.97 L403.96,1218.09 L406.16,1216.2 L408.36,1214.33 L410.56,1212.45 L412.76,1210.58 L414.96,1208.72 L417.16,1206.86 L419.36,1205.01 L421.56,1203.16 L423.77,1201.32 L425.97,1199.5 L428.17,1197.68 L430.37,1195.87 L432.57,1194.07 L434.77,1192.28 L436.97,1190.5 L439.17,1188.73 L441.37,1186.98 L443.57,1185.23 L445.77,1183.5 L447.97,1181.79 L450.17,1180.08 L452.37,1178.4 L454.57,1176.72 L456.78,1175.06 L458.98,1173.42 L461.18,1171.79 L463.38,1170.17 L465.58,1168.57 L467.78,1166.99 L469.98,1165.42 L472.18,1163.87 L474.38,1162.33 L476.58,1160.82 L478.78,1159.31 L480.98,1157.83 L483.18,1156.36 L485.38,1154.91 L487.58,1153.48 L489.79,1152.06 L491.99,1150.66 L494.19,1149.28 L496.39,1147.92 L498.59,1146.57 L500.79,1145.24 L502.99,1143.93 L505.19,1142.64 L507.39,1141.36 L509.59,1140.1 L511.79,1138.86 L513.99,1137.63 L516.19,1136.42 L518.39,1135.23 L520.59,1134.06 L522.8,1132.9 L525,1131.77 L527.2,1130.64 L529.4,1129.54 L531.6,1128.45 L533.8,1127.38 L536,1126.32 L538.2,1125.28 L540.4,1124.26 L542.6,1123.25 L544.8,1122.26 L547,1121.29 L549.2,1120.33 L551.4,1119.38 L553.6,1118.45 L555.81,1117.54 L558.01,1116.64 L560.21,1115.76 L562.41,1114.89 L564.61,1114.04 L566.81,1113.2 L569.01,1112.38 L571.21,1111.57 L573.41,1110.77 L575.61,1109.99 L577.81,1109.22 L580.01,1108.46 L582.21,1107.72 L584.41,1106.99 L586.61,1106.28 L588.82,1105.58 L591.02,1104.89 L593.22,1104.21 L595.42,1103.55 L597.62,1102.89 L599.82,1102.25 L602.02,1101.62 L604.22,1101.01 L606.42,1100.4 L608.62,1099.81 L610.82,1099.22 L613.02,1098.65 L615.22,1098.09 L617.42,1097.54 L619.62,1097 L621.83,1096.47 L624.03,1095.95 L626.23,1095.45 L628.43,1094.95 L630.63,1094.46 L632.83,1093.98 L635.03,1093.51 L637.23,1093.05 L639.43,1092.6 L641.63,1092.16 L643.83,1091.72 L646.03,1091.3 L648.23,1090.88 L650.43,1090.47 L652.63,1090.07 L654.84,1089.68 L657.04,1089.3 L659.24,1088.93 L661.44,1088.56 L663.64,1088.2 L665.84,1087.85 L668.04,1087.5 L670.24,1087.17 L672.44,1086.84 L674.64,1086.51 L676.84,1086.2 L679.04,1085.89 L681.24,1085.58 L683.44,1085.29 L685.64,1085 L687.85,1084.71 L690.05,1084.44 L692.25,1084.17 L694.45,1083.9 L696.65,1083.64 L698.85,1083.39 L701.05,1083.14 L703.25,1082.9 L705.45,1082.66 L707.65,1082.43 L709.85,1082.21 L712.05,1081.98 L714.25,1081.77 L716.45,1081.56 L718.65,1081.35 L720.86,1081.15 L723.06,1080.96 L725.26,1080.76 L727.46,1080.58 L729.66,1080.4 L731.86,1080.22 L734.06,1080.04" stroke="#D06A63" stroke-width="1.35" stroke-dasharray="4.4 4.4"/>
<path d="M208.1,1281.2 L210.32,1281.05 L212.53,1280.89 L214.75,1280.71 L216.96,1280.52 L219.18,1280.32 L221.4,1280.1 L223.61,1279.87 L225.83,1279.62 L228.04,1279.36 L230.26,1279.08 L232.47,1278.79 L234.69,1278.47 L236.91,1278.14 L239.12,1277.79 L241.34,1277.41 L243.55,1277.02 L245.77,1276.61 L247.99,1276.17 L250.2,1275.71 L252.42,1275.23 L254.63,1274.72 L256.85,1274.19 L259.07,1273.63 L261.28,1273.05 L263.5,1272.44 L265.71,1271.81 L267.93,1271.14 L270.15,1270.45 L272.36,1269.73 L274.58,1268.99 L276.79,1268.21 L279.01,1267.4 L281.22,1266.57 L283.44,1265.7 L285.66,1264.81 L287.87,1263.88 L290.09,1262.93 L292.3,1261.94 L294.52,1260.92 L296.74,1259.87 L298.95,1258.8 L301.17,1257.69 L303.38,1256.55 L305.6,1255.38 L307.82,1254.18 L310.03,1252.95 L312.25,1251.69 L314.46,1250.4 L316.68,1249.09 L318.89,1247.74 L321.11,1246.37 L323.33,1244.97 L325.54,1243.54 L327.76,1242.09 L329.97,1240.61 L332.19,1239.11 L334.41,1237.58 L336.62,1236.03 L338.84,1234.45 L341.05,1232.85 L343.27,1231.23 L345.49,1229.59 L347.7,1227.93 L349.92,1226.25 L352.13,1224.55 L354.35,1222.83 L356.57,1221.1 L358.78,1219.35 L361,1217.58 L363.21,1215.81 L365.43,1214.01 L367.64,1212.21 L369.86,1210.39 L372.08,1208.56 L374.29,1206.73 L376.51,1204.88 L378.72,1203.03 L380.94,1201.16 L383.16,1199.3 L385.37,1197.42 L387.59,1195.55 L389.8,1193.67 L392.02,1191.78 L394.24,1189.9 L396.45,1188.01 L398.67,1186.12 L400.88,1184.24 L403.1,1182.35 L405.32,1180.47 L407.53,1178.58 L409.75,1176.71 L411.96,1174.83 L414.18,1172.97 L416.39,1171.1 L418.61,1169.25 L420.83,1167.4 L423.04,1165.55 L425.26,1163.72 L427.47,1161.9 L429.69,1160.08 L431.91,1158.27 L434.12,1156.48 L436.34,1154.69 L438.55,1152.92 L440.77,1151.16 L442.99,1149.41 L445.2,1147.67 L447.42,1145.94 L449.63,1144.23 L451.85,1142.53 L454.06,1140.85 L456.28,1139.18 L458.5,1137.53 L460.71,1135.89 L462.93,1134.27 L465.14,1132.66 L467.36,1131.07 L469.58,1129.49 L471.79,1127.93 L474.01,1126.38 L476.22,1124.86 L478.44,1123.35 L480.66,1121.85 L482.87,1120.38 L485.09,1118.92 L487.3,1117.47 L489.52,1116.05 L491.74,1114.64 L493.95,1113.25 L496.17,1111.87 L498.38,1110.52 L500.6,1109.18 L502.81,1107.86 L505.03,1106.55 L507.25,1105.27 L509.46,1104 L511.68,1102.75 L513.89,1101.51 L516.11,1100.29 L518.33,1099.09 L520.54,1097.91 L522.76,1096.75 L524.97,1095.6 L527.19,1094.46 L529.41,1093.35 L531.62,1092.25 L533.84,1091.17 L536.05,1090.1 L538.27,1089.05 L540.48,1088.02 L542.7,1087.01 L544.92,1086 L547.13,1085.02 L549.35,1084.05 L551.56,1083.1 L553.78,1082.16 L556,1081.23 L558.21,1080.33 L560.43,1079.43 L562.64,1078.56 L564.86,1077.69 L567.08,1076.84 L569.29,1076.01 L571.51,1075.19 L573.72,1074.38 L575.94,1073.59 L578.16,1072.81 L580.37,1072.04 L582.59,1071.29 L584.8,1070.55 L587.02,1069.82 L589.23,1069.11 L591.45,1068.41 L593.67,1067.72 L595.88,1067.04 L598.1,1066.38 L600.31,1065.73 L602.53,1065.09 L604.75,1064.46 L606.96,1063.84 L609.18,1063.23 L611.39,1062.64 L613.61,1062.05 L615.83,1061.48 L618.04,1060.92 L620.26,1060.36 L622.47,1059.82 L624.69,1059.29 L626.91,1058.77 L629.12,1058.25 L631.34,1057.75 L633.55,1057.26 L635.77,1056.77 L637.98,1056.3 L640.2,1055.83 L642.42,1055.37 L644.63,1054.93 L646.85,1054.49 L649.06,1054.06 L651.28,1053.63 L653.5,1053.22 L655.71,1052.81 L657.93,1052.41 L660.14,1052.02 L662.36,1051.64 L664.58,1051.26 L666.79,1050.89 L669.01,1050.53 L671.22,1050.17 L673.44,1049.83 L675.65,1049.49 L677.87,1049.15 L680.09,1048.82 L682.3,1048.5 L684.52,1048.19 L686.73,1047.88 L688.95,1047.58 L691.17,1047.28 L693.38,1046.99 L695.6,1046.71 L697.81,1046.43 L700.03,1046.15 L702.25,1045.88 L704.46,1045.62 L706.68,1045.36 L708.89,1045.11 L711.11,1044.86 L713.33,1044.62 L715.54,1044.38 L717.76,1044.15 L719.97,1043.92 L722.19,1043.7 L724.4,1043.48 L726.62,1043.27 L728.84,1043.06 L731.05,1042.85 L733.27,1042.65 L735.48,1042.45 L737.7,1042.26" stroke="#E2635B" stroke-width="1.8"/>
<path d="M208.1,1262.81 L211.15,1262.8 L214.19,1262.78 L217.24,1262.76 L220.29,1262.73 L223.33,1262.68 L226.38,1262.61 L229.43,1262.52 L232.47,1262.41 L235.52,1262.25 L238.57,1262.06 L241.62,1261.81 L244.66,1261.49 L247.71,1261.1 L250.76,1260.61 L253.8,1260.03 L256.85,1259.32 L259.9,1258.47 L262.94,1257.48 L265.99,1256.32 L269.04,1254.97 L272.08,1253.41 L275.13,1251.64 L278.18,1249.64 L281.22,1247.39 L284.27,1244.88 L287.32,1242.1 L290.37,1239.04 L293.41,1235.69 L296.46,1232.05 L299.51,1228.11 L302.55,1223.87 L305.6,1219.34 L308.65,1214.51 L311.69,1209.39 L314.74,1203.98 L317.79,1198.31 L320.83,1192.37 L323.88,1186.18 L326.93,1179.75 L329.97,1173.1 L333.02,1166.25 L336.07,1159.21 L339.12,1151.99 L342.16,1144.63 L345.21,1137.13 L348.26,1129.51 L351.3,1121.8 L354.35,1114.01 L357.4,1106.16 L360.44,1098.27 L363.49,1090.35 L366.54,1082.42 L369.58,1074.5 L372.63,1066.6 L375.68,1058.75 L378.72,1050.94 L381.77,1043.19 L384.82,1035.52 L387.86,1027.94 L390.91,1020.46 L393.96,1013.08 L397.01,1005.81 L400.05,998.67 L403.1,991.65 L406.15,984.77 L409.19,978.03 L412.24,971.43 L415.29,964.98 L418.33,958.68 L421.38,952.53 L424.43,946.53 L427.47,940.69 L430.52,935.01 L433.57,929.48 L436.61,924.11 L439.66,918.89 L442.71,913.83 L445.76,908.92 L448.8,904.17 L451.85,899.56 L454.9,895.1 L457.94,890.78 L460.99,886.61 L464.04,882.57 L467.08,878.67 L470.13,874.91 L473.18,871.28 L476.22,867.77 L479.27,864.4 L482.32,861.14 L485.36,858 L488.41,854.97 L491.46,852.06 L494.51,849.26 L497.55,846.56 L500.6,843.96 L503.65,841.47 L506.69,839.07 L509.74,836.76 L512.79,834.54 L515.83,832.41 L518.88,830.36 L521.93,828.39 L524.97,826.5 L528.02,824.69 L531.07,822.95 L534.11,821.28 L537.16,819.68 L540.21,818.14 L543.25,816.66 L546.3,815.25 L549.35,813.89 L552.4,812.59 L555.44,811.34 L558.49,810.15 L561.54,809 L564.58,807.9 L567.63,806.85 L570.68,805.84 L573.72,804.87 L576.77,803.95 L579.82,803.06 L582.86,802.21 L585.91,801.4 L588.96,800.62 L592,799.87 L595.05,799.16 L598.1,798.48 L601.15,797.82 L604.19,797.19 L607.24,796.59 L610.29,796.02 L613.33,795.47 L616.38,794.94 L619.43,794.44 L622.47,793.96 L625.52,793.5 L628.57,793.05 L631.61,792.63 L634.66,792.23 L637.71,791.84 L640.75,791.47 L643.8,791.12 L646.85,790.78 L649.89,790.45 L652.94,790.14 L655.99,789.85 L659.04,789.56 L662.08,789.29 L665.13,789.03 L668.18,788.78 L671.22,788.55 L674.27,788.32 L677.32,788.1 L680.36,787.89 L683.41,787.7 L686.46,787.51 L689.5,787.32 L692.55,787.15 L695.6,786.98 L698.64,786.82 L701.69,786.67 L704.74,786.53 L707.79,786.39 L710.83,786.25 L713.88,786.13 L716.93,786 L719.97,785.89 L723.02,785.78 L726.07,785.67 L729.11,785.57 L732.16,785.47 L735.21,785.38 L738.25,785.29 L741.3,785.2 L744.35,785.12 L747.39,785.04 L750.44,784.97 L753.49,784.9 L756.54,784.83 L759.58,784.77 L762.63,784.7 L765.68,784.64 L768.72,784.59 L771.77,784.53 L774.82,784.48 L777.86,784.43 L780.91,784.38 L783.96,784.34 L787,784.29 L790.05,784.25 L793.1,784.21 L796.14,784.17 L799.19,784.14 L802.24,784.1 L805.28,784.07 L808.33,784.04 L811.38,784.01 L814.43,783.98 L817.47,783.95 L820.52,783.92 L823.57,783.9 L826.61,783.87 L829.66,783.85 L832.71,783.83 L835.75,783.8 L838.8,783.78 L841.85,783.76 L844.89,783.75 L847.94,783.73 L850.99,783.71 L854.03,783.69 L857.08,783.68 L860.13,783.66 L863.18,783.65 L866.22,783.64 L869.27,783.62 L872.32,783.61 L875.36,783.6 L878.41,783.59 L881.46,783.57 L884.5,783.56 L887.55,783.55 L890.6,783.54 L893.64,783.53 L896.69,783.53 L899.74,783.52 L902.78,783.51 L905.83,783.5 L908.88,783.49 L911.93,783.49 L914.97,783.48 L918.02,783.47 L921.07,783.47 L924.11,783.46 L927.16,783.46 L930.21,783.45 L933.25,783.44 L936.3,783.44" stroke="#34B3B7" stroke-width="1.35" stroke-dasharray="4.4 4.4"/>
<path d="M208.1,1298.87 L211.15,1298.86 L214.19,1298.84 L217.24,1298.83 L220.29,1298.8 L223.33,1298.76 L226.38,1298.71 L229.43,1298.64 L232.47,1298.54 L235.52,1298.41 L238.57,1298.25 L241.62,1298.03 L244.66,1297.76 L247.71,1297.42 L250.76,1297 L253.8,1296.49 L256.85,1295.86 L259.9,1295.11 L262.94,1294.22 L265.99,1293.17 L269.04,1291.94 L272.08,1290.53 L275.13,1288.91 L278.18,1287.06 L281.22,1284.98 L284.27,1282.64 L287.32,1280.04 L290.37,1277.17 L293.41,1274.01 L296.46,1270.57 L299.51,1266.82 L302.55,1262.78 L305.6,1258.45 L308.65,1253.81 L311.69,1248.88 L314.74,1243.67 L317.79,1238.17 L320.83,1232.4 L323.88,1226.38 L326.93,1220.11 L329.97,1213.61 L333.02,1206.89 L336.07,1199.97 L339.12,1192.87 L342.16,1185.6 L345.21,1178.19 L348.26,1170.65 L351.3,1163 L354.35,1155.26 L357.4,1147.45 L360.44,1139.58 L363.49,1131.68 L366.54,1123.76 L369.58,1115.83 L372.63,1107.92 L375.68,1100.04 L378.72,1092.19 L381.77,1084.41 L384.82,1076.69 L387.86,1069.05 L390.91,1061.5 L393.96,1054.05 L397.01,1046.7 L400.05,1039.48 L403.1,1032.38 L406.15,1025.41 L409.19,1018.58 L412.24,1011.88 L415.29,1005.33 L418.33,998.93 L421.38,992.68 L424.43,986.59 L427.47,980.65 L430.52,974.86 L433.57,969.23 L436.61,963.76 L439.66,958.44 L442.71,953.27 L445.76,948.26 L448.8,943.41 L451.85,938.7 L454.9,934.14 L457.94,929.73 L460.99,925.46 L464.04,921.34 L467.08,917.35 L470.13,913.5 L473.18,909.78 L476.22,906.19 L479.27,902.73 L482.32,899.4 L485.36,896.18 L488.41,893.08 L491.46,890.09 L494.51,887.22 L497.55,884.45 L500.6,881.79 L503.65,879.23 L506.69,876.76 L509.74,874.4 L512.79,872.12 L515.83,869.93 L518.88,867.83 L521.93,865.81 L524.97,863.87 L528.02,862.01 L531.07,860.22 L534.11,858.5 L537.16,856.86 L540.21,855.28 L543.25,853.76 L546.3,852.31 L549.35,850.91 L552.4,849.57 L555.44,848.29 L558.49,847.06 L561.54,845.88 L564.58,844.76 L567.63,843.67 L570.68,842.64 L573.72,841.64 L576.77,840.69 L579.82,839.78 L582.86,838.91 L585.91,838.07 L588.96,837.27 L592,836.5 L595.05,835.77 L598.1,835.06 L601.15,834.39 L604.19,833.75 L607.24,833.13 L610.29,832.54 L613.33,831.97 L616.38,831.43 L619.43,830.91 L622.47,830.42 L625.52,829.94 L628.57,829.49 L631.61,829.06 L634.66,828.64 L637.71,828.24 L640.75,827.86 L643.8,827.5 L646.85,827.15 L649.89,826.82 L652.94,826.5 L655.99,826.19 L659.04,825.9 L662.08,825.62 L665.13,825.36 L668.18,825.1 L671.22,824.86 L674.27,824.62 L677.32,824.4 L680.36,824.19 L683.41,823.98 L686.46,823.79 L689.5,823.6 L692.55,823.42 L695.6,823.25 L698.64,823.09 L701.69,822.93 L704.74,822.78 L707.79,822.64 L710.83,822.5 L713.88,822.37 L716.93,822.25 L719.97,822.13 L723.02,822.02 L726.07,821.91 L729.11,821.8 L732.16,821.7 L735.21,821.61 L738.25,821.52 L741.3,821.43 L744.35,821.35 L747.39,821.27 L750.44,821.19 L753.49,821.12 L756.54,821.05 L759.58,820.98 L762.63,820.92 L765.68,820.86 L768.72,820.8 L771.77,820.74 L774.82,820.69 L777.86,820.64 L780.91,820.59 L783.96,820.55 L787,820.5 L790.05,820.46 L793.1,820.42 L796.14,820.38 L799.19,820.34 L802.24,820.31 L805.28,820.27 L808.33,820.24 L811.38,820.21 L814.43,820.18 L817.47,820.15 L820.52,820.13 L823.57,820.1 L826.61,820.08 L829.66,820.05 L832.71,820.03 L835.75,820.01 L838.8,819.99 L841.85,819.97 L844.89,819.95 L847.94,819.93 L850.99,819.91 L854.03,819.9 L857.08,819.88 L860.13,819.87 L863.18,819.85 L866.22,819.84 L869.27,819.83 L872.32,819.81 L875.36,819.8 L878.41,819.79 L881.46,819.78 L884.5,819.77 L887.55,819.76 L890.6,819.75 L893.64,819.74 L896.69,819.73 L899.74,819.73 L902.78,819.72 L905.83,819.71 L908.88,819.7 L911.93,819.7 L914.97,819.69 L918.02,819.68 L921.07,819.68 L924.11,819.67 L927.16,819.67 L930.21,819.66 L933.25,819.66 L936.3,819.65" stroke="#34B3B7" stroke-width="1.35" stroke-dasharray="4.4 4.4"/>
<path d="M208.1,1280.84 L211.15,1280.83 L214.19,1280.81 L217.24,1280.79 L220.29,1280.76 L223.33,1280.72 L226.38,1280.66 L229.43,1280.58 L232.47,1280.47 L235.52,1280.33 L238.57,1280.15 L241.62,1279.92 L244.66,1279.63 L247.71,1279.26 L250.76,1278.81 L253.8,1278.26 L256.85,1277.59 L259.9,1276.79 L262.94,1275.85 L265.99,1274.74 L269.04,1273.45 L272.08,1271.97 L275.13,1270.28 L278.18,1268.35 L281.22,1266.18 L284.27,1263.76 L287.32,1261.07 L290.37,1258.11 L293.41,1254.85 L296.46,1251.31 L299.51,1247.47 L302.55,1243.33 L305.6,1238.89 L308.65,1234.16 L311.69,1229.13 L314.74,1223.82 L317.79,1218.24 L320.83,1212.39 L323.88,1206.28 L326.93,1199.93 L329.97,1193.36 L333.02,1186.57 L336.07,1179.59 L339.12,1172.43 L342.16,1165.12 L345.21,1157.66 L348.26,1150.08 L351.3,1142.4 L354.35,1134.64 L357.4,1126.81 L360.44,1118.93 L363.49,1111.01 L366.54,1103.09 L369.58,1095.17 L372.63,1087.26 L375.68,1079.39 L378.72,1071.57 L381.77,1063.8 L384.82,1056.11 L387.86,1048.49 L390.91,1040.98 L393.96,1033.56 L397.01,1026.26 L400.05,1019.07 L403.1,1012.02 L406.15,1005.09 L409.19,998.3 L412.24,991.66 L415.29,985.16 L418.33,978.81 L421.38,972.61 L424.43,966.56 L427.47,960.67 L430.52,954.94 L433.57,949.36 L436.61,943.93 L439.66,938.67 L442.71,933.55 L445.76,928.59 L448.8,923.79 L451.85,919.13 L454.9,914.62 L457.94,910.25 L460.99,906.03 L464.04,901.95 L467.08,898.01 L470.13,894.21 L473.18,890.53 L476.22,886.98 L479.27,883.56 L482.32,880.27 L485.36,877.09 L488.41,874.03 L491.46,871.08 L494.51,868.24 L497.55,865.51 L500.6,862.88 L503.65,860.35 L506.69,857.91 L509.74,855.58 L512.79,853.33 L515.83,851.17 L518.88,849.09 L521.93,847.1 L524.97,845.19 L528.02,843.35 L531.07,841.58 L534.11,839.89 L537.16,838.27 L540.21,836.71 L543.25,835.21 L546.3,833.78 L549.35,832.4 L552.4,831.08 L555.44,829.82 L558.49,828.6 L561.54,827.44 L564.58,826.33 L567.63,825.26 L570.68,824.24 L573.72,823.26 L576.77,822.32 L579.82,821.42 L582.86,820.56 L585.91,819.73 L588.96,818.94 L592,818.19 L595.05,817.46 L598.1,816.77 L601.15,816.11 L604.19,815.47 L607.24,814.86 L610.29,814.28 L613.33,813.72 L616.38,813.19 L619.43,812.68 L622.47,812.19 L625.52,811.72 L628.57,811.27 L631.61,810.84 L634.66,810.43 L637.71,810.04 L640.75,809.67 L643.8,809.31 L646.85,808.96 L649.89,808.64 L652.94,808.32 L655.99,808.02 L659.04,807.73 L662.08,807.46 L665.13,807.2 L668.18,806.94 L671.22,806.7 L674.27,806.47 L677.32,806.25 L680.36,806.04 L683.41,805.84 L686.46,805.65 L689.5,805.46 L692.55,805.29 L695.6,805.12 L698.64,804.96 L701.69,804.8 L704.74,804.66 L707.79,804.51 L710.83,804.38 L713.88,804.25 L716.93,804.13 L719.97,804.01 L723.02,803.9 L726.07,803.79 L729.11,803.69 L732.16,803.59 L735.21,803.49 L738.25,803.4 L741.3,803.32 L744.35,803.23 L747.39,803.16 L750.44,803.08 L753.49,803.01 L756.54,802.94 L759.58,802.87 L762.63,802.81 L765.68,802.75 L768.72,802.69 L771.77,802.64 L774.82,802.59 L777.86,802.53 L780.91,802.49 L783.96,802.44 L787,802.4 L790.05,802.35 L793.1,802.31 L796.14,802.28 L799.19,802.24 L802.24,802.2 L805.28,802.17 L808.33,802.14 L811.38,802.11 L814.43,802.08 L817.47,802.05 L820.52,802.02 L823.57,802 L826.61,801.97 L829.66,801.95 L832.71,801.93 L835.75,801.91 L838.8,801.89 L841.85,801.87 L844.89,801.85 L847.94,801.83 L850.99,801.81 L854.03,801.8 L857.08,801.78 L860.13,801.77 L863.18,801.75 L866.22,801.74 L869.27,801.72 L872.32,801.71 L875.36,801.7 L878.41,801.69 L881.46,801.68 L884.5,801.67 L887.55,801.66 L890.6,801.65 L893.64,801.64 L896.69,801.63 L899.74,801.62 L902.78,801.61 L905.83,801.61 L908.88,801.6 L911.93,801.59 L914.97,801.59 L918.02,801.58 L921.07,801.57 L924.11,801.57 L927.16,801.56 L930.21,801.56 L933.25,801.55 L936.3,801.55" stroke="#16ADB2" stroke-width="1.8"/>
</g>
<g>
<circle cx="208.1" cy="1282.46" r="3.5" fill="#F8766D" fill-opacity="0.5"/>
<circle cx="241.2" cy="1276.45" r="3.5" fill="#F8766D" fill-opacity="0.5"/>
<circle cx="274.3" cy="1261.66" r="3.5" fill="#F8766D" fill-opacity="0.5"/>
<circle cx="307.4" cy="1237.03" r="3.5" fill="#F8766D" fill-opacity="0.5"/>
<circle cx="340.5" cy="1221.89" r="3.5" fill="#F8766D" fill-opacity="0.5"/>
<circle cx="373.6" cy="1212.41" r="3.5" fill="#F8766D" fill-opacity="0.5"/>
<circle cx="406.7" cy="1183.28" r="3.5" fill="#F8766D" fill-opacity="0.5"/>
<circle cx="439.8" cy="1159.7" r="3.5" fill="#F8766D" fill-opacity="0.5"/>
<circle cx="472.9" cy="1155.65" r="3.5" fill="#F8766D" fill-opacity="0.5"/>
<circle cx="506" cy="1106.06" r="3.5" fill="#F8766D" fill-opacity="0.5"/>
<circle cx="539.1" cy="1098.55" r="3.5" fill="#F8766D" fill-opacity="0.5"/>
<circle cx="572.2" cy="1067.68" r="3.5" fill="#F8766D" fill-opacity="0.5"/>
<circle cx="605.3" cy="1052.42" r="3.5" fill="#F8766D" fill-opacity="0.5"/>
<circle cx="638.4" cy="1033" r="3.5" fill="#F8766D" fill-opacity="0.5"/>
<circle cx="671.5" cy="1033" r="3.5" fill="#F8766D" fill-opacity="0.5"/>
<circle cx="704.6" cy="1033" r="3.5" fill="#F8766D" fill-opacity="0.5"/>
<circle cx="737.7" cy="1033" r="3.5" fill="#F8766D" fill-opacity="0.5"/>
<circle cx="803.9" cy="1044.44" r="3.5" fill="#F8766D" fill-opacity="0.5"/>
<circle cx="870.1" cy="1060.05" r="3.5" fill="#F8766D" fill-opacity="0.5"/>
<circle cx="936.3" cy="1071.49" r="3.5" fill="#F8766D" fill-opacity="0.5"/>
<circle cx="1002.5" cy="1086.75" r="3.5" fill="#F8766D" fill-opacity="0.5"/>
<circle cx="208.1" cy="1279.92" r="3.5" fill="#00BFC4" fill-opacity="0.5"/>
<circle cx="241.2" cy="1265.7" r="3.5" fill="#00BFC4" fill-opacity="0.5"/>
<circle cx="274.3" cy="1255.65" r="3.5" fill="#00BFC4" fill-opacity="0.5"/>
<circle cx="307.4" cy="1234.72" r="3.5" fill="#00BFC4" fill-opacity="0.5"/>
<circle cx="340.5" cy="1167.33" r="3.5" fill="#00BFC4" fill-opacity="0.5"/>
<circle cx="373.6" cy="1094.85" r="3.5" fill="#00BFC4" fill-opacity="0.5"/>
<circle cx="406.7" cy="998.32" r="3.5" fill="#00BFC4" fill-opacity="0.5"/>
<circle cx="439.8" cy="943.99" r="3.5" fill="#00BFC4" fill-opacity="0.5"/>
<circle cx="472.9" cy="905.84" r="3.5" fill="#00BFC4" fill-opacity="0.5"/>
<circle cx="506" cy="851.51" r="3.5" fill="#00BFC4" fill-opacity="0.5"/>
<circle cx="539.1" cy="832.2" r="3.5" fill="#00BFC4" fill-opacity="0.5"/>
<circle cx="572.2" cy="808.97" r="3.5" fill="#00BFC4" fill-opacity="0.5"/>
<circle cx="605.3" cy="805.27" r="3.5" fill="#00BFC4" fill-opacity="0.5"/>
<circle cx="638.4" cy="801.34" r="3.5" fill="#00BFC4" fill-opacity="0.5"/>
<circle cx="671.5" cy="801.34" r="3.5" fill="#00BFC4" fill-opacity="0.5"/>
<circle cx="704.6" cy="801.34" r="3.5" fill="#00BFC4" fill-opacity="0.5"/>
<circle cx="737.7" cy="801.34" r="3.5" fill="#00BFC4" fill-opacity="0.5"/>
<circle cx="803.9" cy="801.22" r="3.5" fill="#00BFC4" fill-opacity="0.5"/>
<circle cx="870.1" cy="801.22" r="3.5" fill="#00BFC4" fill-opacity="0.5"/>
<circle cx="936.3" cy="801.45" r="3.5" fill="#00BFC4" fill-opacity="0.5"/>
<circle cx="1002.5" cy="839.95" r="3.5" fill="#00BFC4" fill-opacity="0.5"/>
</g>
<rect x="605.3" y="1119.7" width="397.2" height="202.3" fill="#fff"/>
<rect x="664.5" y="1125.2" width="331.9" height="163.2" fill="#fff"/>
<line x1="664.5" x2="996.4" y1="1285.53" y2="1285.53" stroke="#EBEBEB" stroke-width="0.6"/>
<line x1="664.5" x2="996.4" y1="1244.17" y2="1244.17" stroke="#EBEBEB" stroke-width="0.6"/>
<line x1="664.5" x2="996.4" y1="1202.83" y2="1202.83" stroke="#EBEBEB" stroke-width="0.6"/>
<line x1="664.5" x2="996.4" y1="1161.47" y2="1161.47" stroke="#EBEBEB" stroke-width="0.6"/>
<line y1="1125.2" y2="1288.4" x1="684.85" x2="684.85" stroke="#EBEBEB" stroke-width="0.6"/>
<line y1="1125.2" y2="1288.4" x1="742.95" x2="742.95" stroke="#EBEBEB" stroke-width="0.6"/>
<line y1="1125.2" y2="1288.4" x1="801.05" x2="801.05" stroke="#EBEBEB" stroke-width="0.6"/>
<line y1="1125.2" y2="1288.4" x1="859.15" x2="859.15" stroke="#EBEBEB" stroke-width="0.6"/>
<line y1="1125.2" y2="1288.4" x1="917.25" x2="917.25" stroke="#EBEBEB" stroke-width="0.6"/>
<line y1="1125.2" y2="1288.4" x1="975.35" x2="975.35" stroke="#EBEBEB" stroke-width="0.6"/>
<line x1="664.5" x2="996.4" y1="1264.85" y2="1264.85" stroke="#EBEBEB" stroke-width="1.0"/>
<line x1="664.5" x2="996.4" y1="1223.5" y2="1223.5" stroke="#EBEBEB" stroke-width="1.0"/>
<line x1="664.5" x2="996.4" y1="1182.15" y2="1182.15" stroke="#EBEBEB" stroke-width="1.0"/>
<line x1="664.5" x2="996.4" y1="1140.8" y2="1140.8" stroke="#EBEBEB" stroke-width="1.0"/>
<line y1="1125.2" y2="1288.4" x1="713.9" x2="713.9" stroke="#EBEBEB" stroke-width="1.0"/>
<line y1="1125.2" y2="1288.4" x1="772" x2="772" stroke="#EBEBEB" stroke-width="1.0"/>
<line y1="1125.2" y2="1288.4" x1="830.1" x2="830.1" stroke="#EBEBEB" stroke-width="1.0"/>
<line y1="1125.2" y2="1288.4" x1="888.2" x2="888.2" stroke="#EBEBEB" stroke-width="1.0"/>
<line y1="1125.2" y2="1288.4" x1="946.3" x2="946.3" stroke="#EBEBEB" stroke-width="1.0"/>
<g clip-path="url(#cIB)" fill="none" stroke-linejoin="round">
<path d="M679.04,1234.78 L680.3,1234.65 L681.57,1234.53 L682.83,1234.41 L684.1,1234.28 L685.36,1234.16 L686.62,1234.03 L687.89,1233.91 L689.15,1233.78 L690.42,1233.66 L691.68,1233.53 L692.95,1233.4 L694.21,1233.27 L695.47,1233.14 L696.74,1233.01 L698,1232.88 L699.27,1232.75 L700.53,1232.62 L701.79,1232.49 L703.06,1232.36 L704.32,1232.22 L705.59,1232.09 L706.85,1231.95 L708.11,1231.82 L709.38,1231.68 L710.64,1231.55 L711.91,1231.41 L713.17,1231.27 L714.43,1231.14 L715.7,1231 L716.96,1230.86 L718.23,1230.72 L719.49,1230.58 L720.76,1230.44 L722.02,1230.3 L723.28,1230.16 L724.55,1230.01 L725.81,1229.87 L727.08,1229.73 L728.34,1229.58 L729.6,1229.44 L730.87,1229.3 L732.13,1229.15 L733.4,1229 L734.66,1228.86 L735.92,1228.71 L737.19,1228.56 L738.45,1228.41 L739.72,1228.26 L740.98,1228.12 L742.25,1227.97 L743.51,1227.81 L744.77,1227.66 L746.04,1227.51 L747.3,1227.36 L748.57,1227.21 L749.83,1227.05 L751.09,1226.9 L752.36,1226.75 L753.62,1226.59 L754.89,1226.44 L756.15,1226.28 L757.41,1226.12 L758.68,1225.97 L759.94,1225.81 L761.21,1225.65 L762.47,1225.49 L763.73,1225.33 L765,1225.17 L766.26,1225.01 L767.53,1224.85 L768.79,1224.69 L770.06,1224.53 L771.32,1224.37 L772.58,1224.21 L773.85,1224.04 L775.11,1223.88 L776.38,1223.71 L777.64,1223.55 L778.9,1223.38 L780.17,1223.22 L781.43,1223.05 L782.7,1222.89 L783.96,1222.72 L785.22,1222.55 L786.49,1222.38 L787.75,1222.21 L789.02,1222.05 L790.28,1221.88 L791.54,1221.71 L792.81,1221.54 L794.07,1221.36 L795.34,1221.19 L796.6,1221.02 L797.87,1220.85 L799.13,1220.67 L800.39,1220.5 L801.66,1220.33 L802.92,1220.15 L804.19,1219.98 L805.45,1219.8 L806.71,1219.63 L807.98,1219.45 L809.24,1219.27 L810.51,1219.1 L811.77,1218.92 L813.03,1218.74 L814.3,1218.56 L815.56,1218.38 L816.83,1218.2 L818.09,1218.02 L819.36,1217.84 L820.62,1217.66 L821.88,1217.48 L823.15,1217.3 L824.41,1217.12 L825.68,1216.94 L826.94,1216.75 L828.2,1216.57 L829.47,1216.39 L830.73,1216.2 L832,1216.02 L833.26,1215.83 L834.52,1215.65 L835.79,1215.46 L837.05,1215.27 L838.32,1215.09 L839.58,1214.9 L840.84,1214.71 L842.11,1214.53 L843.37,1214.34 L844.64,1214.15 L845.9,1213.96 L847.17,1213.77 L848.43,1213.58 L849.69,1213.39 L850.96,1213.2 L852.22,1213.01 L853.49,1212.82 L854.75,1212.63 L856.01,1212.43 L857.28,1212.24 L858.54,1212.05 L859.81,1211.86 L861.07,1211.66 L862.33,1211.47 L863.6,1211.27 L864.86,1211.08 L866.13,1210.88 L867.39,1210.69 L868.66,1210.49 L869.92,1210.3 L871.18,1210.1 L872.45,1209.9 L873.71,1209.71 L874.98,1209.51 L876.24,1209.31 L877.5,1209.11 L878.77,1208.92 L880.03,1208.72 L881.3,1208.52 L882.56,1208.32 L883.82,1208.12 L885.09,1207.92 L886.35,1207.72 L887.62,1207.52 L888.88,1207.32 L890.14,1207.12 L891.41,1206.92 L892.67,1206.71 L893.94,1206.51 L895.2,1206.31 L896.47,1206.11 L897.73,1205.9 L898.99,1205.7 L900.26,1205.5 L901.52,1205.29 L902.79,1205.09 L904.05,1204.88 L905.31,1204.68 L906.58,1204.48 L907.84,1204.27 L909.11,1204.07 L910.37,1203.86 L911.63,1203.65 L912.9,1203.45 L914.16,1203.24 L915.43,1203.03 L916.69,1202.83 L917.95,1202.62 L919.22,1202.41 L920.48,1202.21 L921.75,1202 L923.01,1201.79 L924.28,1201.58 L925.54,1201.37 L926.8,1201.16 L928.07,1200.96 L929.33,1200.75 L930.6,1200.54 L931.86,1200.33 L933.12,1200.12 L934.39,1199.91 L935.65,1199.7 L936.92,1199.49 L938.18,1199.28 L939.44,1199.06 L940.71,1198.85 L941.97,1198.64 L943.24,1198.43 L944.5,1198.22 L945.77,1198.01 L947.03,1197.8 L948.29,1197.58 L949.56,1197.37 L950.82,1197.16 L952.09,1196.95 L953.35,1196.73 L954.61,1196.52 L955.88,1196.31 L957.14,1196.09 L958.41,1195.88 L959.67,1195.67 L960.93,1195.45 L962.2,1195.24 L963.46,1195.03 L964.73,1194.81 L965.99,1194.6 L967.25,1194.38 L968.52,1194.17 L969.78,1193.95 L971.05,1193.74 L972.31,1193.52 L973.58,1193.31 L974.84,1193.09 L976.1,1192.88 L977.37,1192.66 L978.63,1192.45 L979.9,1192.23 L981.16,1192.02" stroke="#D06A63" stroke-width="1.3" stroke-dasharray="3.6 3.6"/>
<path d="M742.95,1281.05 L743.95,1280.93 L744.94,1280.81 L745.94,1280.68 L746.94,1280.56 L747.93,1280.44 L748.93,1280.31 L749.93,1280.19 L750.92,1280.06 L751.92,1279.94 L752.92,1279.81 L753.91,1279.68 L754.91,1279.56 L755.91,1279.43 L756.9,1279.3 L757.9,1279.17 L758.9,1279.05 L759.89,1278.92 L760.89,1278.79 L761.89,1278.66 L762.88,1278.53 L763.88,1278.4 L764.88,1278.27 L765.87,1278.14 L766.87,1278.01 L767.87,1277.88 L768.86,1277.75 L769.86,1277.62 L770.86,1277.49 L771.85,1277.36 L772.85,1277.22 L773.85,1277.09 L774.84,1276.96 L775.84,1276.82 L776.84,1276.69 L777.83,1276.56 L778.83,1276.42 L779.83,1276.29 L780.82,1276.15 L781.82,1276.02 L782.82,1275.88 L783.81,1275.75 L784.81,1275.61 L785.81,1275.47 L786.8,1275.34 L787.8,1275.2 L788.8,1275.06 L789.79,1274.93 L790.79,1274.79 L791.79,1274.65 L792.78,1274.51 L793.78,1274.37 L794.78,1274.23 L795.77,1274.09 L796.77,1273.96 L797.77,1273.82 L798.76,1273.68 L799.76,1273.53 L800.76,1273.39 L801.75,1273.25 L802.75,1273.11 L803.75,1272.97 L804.75,1272.83 L805.74,1272.69 L806.74,1272.54 L807.74,1272.4 L808.73,1272.26 L809.73,1272.11 L810.73,1271.97 L811.72,1271.83 L812.72,1271.68 L813.72,1271.54 L814.71,1271.39 L815.71,1271.25 L816.71,1271.1 L817.7,1270.96 L818.7,1270.81 L819.7,1270.67 L820.69,1270.52 L821.69,1270.37 L822.69,1270.23 L823.68,1270.08 L824.68,1269.93 L825.68,1269.79 L826.67,1269.64 L827.67,1269.49 L828.67,1269.34 L829.66,1269.19 L830.66,1269.04 L831.66,1268.9 L832.65,1268.75 L833.65,1268.6 L834.65,1268.45 L835.64,1268.3 L836.64,1268.15 L837.64,1268 L838.63,1267.84 L839.63,1267.69 L840.63,1267.54 L841.62,1267.39 L842.62,1267.24 L843.62,1267.09 L844.61,1266.93 L845.61,1266.78 L846.61,1266.63 L847.6,1266.48 L848.6,1266.32 L849.6,1266.17 L850.59,1266.02 L851.59,1265.86 L852.59,1265.71 L853.58,1265.55 L854.58,1265.4 L855.58,1265.24 L856.57,1265.09 L857.57,1264.93 L858.57,1264.78 L859.56,1264.62 L860.56,1264.47 L861.56,1264.31 L862.55,1264.15 L863.55,1264 L864.55,1263.84 L865.54,1263.68 L866.54,1263.53 L867.54,1263.37 L868.53,1263.21 L869.53,1263.05 L870.53,1262.89 L871.52,1262.74 L872.52,1262.58 L873.52,1262.42 L874.51,1262.26 L875.51,1262.1 L876.51,1261.94 L877.5,1261.78 L878.5,1261.62 L879.5,1261.46 L880.49,1261.3 L881.49,1261.14 L882.49,1260.98 L883.48,1260.82 L884.48,1260.66 L885.48,1260.5 L886.47,1260.34 L887.47,1260.18 L888.47,1260.02 L889.46,1259.85 L890.46,1259.69 L891.46,1259.53 L892.45,1259.37 L893.45,1259.21 L894.45,1259.04 L895.44,1258.88 L896.44,1258.72 L897.44,1258.55 L898.43,1258.39 L899.43,1258.23 L900.43,1258.06 L901.42,1257.9 L902.42,1257.74 L903.42,1257.57 L904.41,1257.41 L905.41,1257.24 L906.41,1257.08 L907.4,1256.91 L908.4,1256.75 L909.4,1256.58 L910.39,1256.42 L911.39,1256.25 L912.39,1256.09 L913.38,1255.92 L914.38,1255.75 L915.38,1255.59 L916.37,1255.42 L917.37,1255.26 L918.37,1255.09 L919.36,1254.92 L920.36,1254.76 L921.36,1254.59 L922.36,1254.42 L923.35,1254.26 L924.35,1254.09 L925.35,1253.92 L926.34,1253.75 L927.34,1253.59 L928.34,1253.42 L929.33,1253.25 L930.33,1253.08 L931.33,1252.91 L932.32,1252.74 L933.32,1252.58 L934.32,1252.41 L935.31,1252.24 L936.31,1252.07 L937.31,1251.9 L938.3,1251.73 L939.3,1251.56 L940.3,1251.39 L941.29,1251.22 L942.29,1251.05 L943.29,1250.89 L944.28,1250.72 L945.28,1250.55 L946.28,1250.38 L947.27,1250.21 L948.27,1250.04 L949.27,1249.87 L950.26,1249.69 L951.26,1249.52 L952.26,1249.35 L953.25,1249.18 L954.25,1249.01 L955.25,1248.84 L956.24,1248.67 L957.24,1248.5 L958.24,1248.33 L959.23,1248.16 L960.23,1247.99 L961.23,1247.81 L962.22,1247.64 L963.22,1247.47 L964.22,1247.3 L965.21,1247.13 L966.21,1246.96 L967.21,1246.78 L968.2,1246.61 L969.2,1246.44 L970.2,1246.27 L971.19,1246.1 L972.19,1245.92 L973.19,1245.75 L974.18,1245.58 L975.18,1245.41 L976.18,1245.23 L977.17,1245.06 L978.17,1244.89 L979.17,1244.72 L980.16,1244.54 L981.16,1244.37" stroke="#D06A63" stroke-width="1.3" stroke-dasharray="3.6 3.6"/>
<path d="M679.04,1261.5 L680.3,1261.38 L681.57,1261.25 L682.83,1261.12 L684.1,1261 L685.36,1260.87 L686.62,1260.74 L687.89,1260.61 L689.15,1260.49 L690.42,1260.36 L691.68,1260.23 L692.95,1260.09 L694.21,1259.96 L695.47,1259.83 L696.74,1259.7 L698,1259.57 L699.27,1259.43 L700.53,1259.3 L701.79,1259.16 L703.06,1259.03 L704.32,1258.89 L705.59,1258.76 L706.85,1258.62 L708.11,1258.48 L709.38,1258.34 L710.64,1258.2 L711.91,1258.06 L713.17,1257.92 L714.43,1257.78 L715.7,1257.64 L716.96,1257.5 L718.23,1257.36 L719.49,1257.22 L720.76,1257.07 L722.02,1256.93 L723.28,1256.79 L724.55,1256.64 L725.81,1256.49 L727.08,1256.35 L728.34,1256.2 L729.6,1256.05 L730.87,1255.91 L732.13,1255.76 L733.4,1255.61 L734.66,1255.46 L735.92,1255.31 L737.19,1255.16 L738.45,1255.01 L739.72,1254.86 L740.98,1254.71 L742.25,1254.55 L743.51,1254.4 L744.77,1254.25 L746.04,1254.09 L747.3,1253.94 L748.57,1253.78 L749.83,1253.63 L751.09,1253.47 L752.36,1253.31 L753.62,1253.16 L754.89,1253 L756.15,1252.84 L757.41,1252.68 L758.68,1252.52 L759.94,1252.36 L761.21,1252.2 L762.47,1252.04 L763.73,1251.88 L765,1251.72 L766.26,1251.55 L767.53,1251.39 L768.79,1251.23 L770.06,1251.06 L771.32,1250.9 L772.58,1250.73 L773.85,1250.57 L775.11,1250.4 L776.38,1250.23 L777.64,1250.07 L778.9,1249.9 L780.17,1249.73 L781.43,1249.56 L782.7,1249.39 L783.96,1249.22 L785.22,1249.05 L786.49,1248.88 L787.75,1248.71 L789.02,1248.54 L790.28,1248.37 L791.54,1248.19 L792.81,1248.02 L794.07,1247.85 L795.34,1247.67 L796.6,1247.5 L797.87,1247.32 L799.13,1247.15 L800.39,1246.97 L801.66,1246.8 L802.92,1246.62 L804.19,1246.44 L805.45,1246.27 L806.71,1246.09 L807.98,1245.91 L809.24,1245.73 L810.51,1245.55 L811.77,1245.37 L813.03,1245.19 L814.3,1245.01 L815.56,1244.83 L816.83,1244.65 L818.09,1244.46 L819.36,1244.28 L820.62,1244.1 L821.88,1243.91 L823.15,1243.73 L824.41,1243.55 L825.68,1243.36 L826.94,1243.18 L828.2,1242.99 L829.47,1242.8 L830.73,1242.62 L832,1242.43 L833.26,1242.24 L834.52,1242.06 L835.79,1241.87 L837.05,1241.68 L838.32,1241.49 L839.58,1241.3 L840.84,1241.11 L842.11,1240.92 L843.37,1240.73 L844.64,1240.54 L845.9,1240.35 L847.17,1240.16 L848.43,1239.96 L849.69,1239.77 L850.96,1239.58 L852.22,1239.39 L853.49,1239.19 L854.75,1239 L856.01,1238.8 L857.28,1238.61 L858.54,1238.42 L859.81,1238.22 L861.07,1238.02 L862.33,1237.83 L863.6,1237.63 L864.86,1237.43 L866.13,1237.24 L867.39,1237.04 L868.66,1236.84 L869.92,1236.64 L871.18,1236.45 L872.45,1236.25 L873.71,1236.05 L874.98,1235.85 L876.24,1235.65 L877.5,1235.45 L878.77,1235.25 L880.03,1235.05 L881.3,1234.85 L882.56,1234.64 L883.82,1234.44 L885.09,1234.24 L886.35,1234.04 L887.62,1233.84 L888.88,1233.63 L890.14,1233.43 L891.41,1233.23 L892.67,1233.02 L893.94,1232.82 L895.2,1232.61 L896.47,1232.41 L897.73,1232.2 L898.99,1232 L900.26,1231.79 L901.52,1231.59 L902.79,1231.38 L904.05,1231.18 L905.31,1230.97 L906.58,1230.76 L907.84,1230.56 L909.11,1230.35 L910.37,1230.14 L911.63,1229.93 L912.9,1229.72 L914.16,1229.52 L915.43,1229.31 L916.69,1229.1 L917.95,1228.89 L919.22,1228.68 L920.48,1228.47 L921.75,1228.26 L923.01,1228.05 L924.28,1227.84 L925.54,1227.63 L926.8,1227.42 L928.07,1227.21 L929.33,1227 L930.6,1226.79 L931.86,1226.57 L933.12,1226.36 L934.39,1226.15 L935.65,1225.94 L936.92,1225.73 L938.18,1225.51 L939.44,1225.3 L940.71,1225.09 L941.97,1224.88 L943.24,1224.66 L944.5,1224.45 L945.77,1224.24 L947.03,1224.02 L948.29,1223.81 L949.56,1223.59 L950.82,1223.38 L952.09,1223.16 L953.35,1222.95 L954.61,1222.74 L955.88,1222.52 L957.14,1222.31 L958.41,1222.09 L959.67,1221.87 L960.93,1221.66 L962.2,1221.44 L963.46,1221.23 L964.73,1221.01 L965.99,1220.8 L967.25,1220.58 L968.52,1220.36 L969.78,1220.15 L971.05,1219.93 L972.31,1219.71 L973.58,1219.5 L974.84,1219.28 L976.1,1219.06 L977.37,1218.85 L978.63,1218.63 L979.9,1218.41 L981.16,1218.19" stroke="#E2635B" stroke-width="1.8"/>
<path d="M679.04,1240.94 L680.07,1240.67 L681.1,1240.4 L682.13,1240.13 L683.16,1239.85 L684.19,1239.57 L685.22,1239.29 L686.26,1239.01 L687.29,1238.73 L688.32,1238.45 L689.35,1238.16 L690.38,1237.87 L691.41,1237.58 L692.44,1237.29 L693.47,1236.99 L694.5,1236.69 L695.53,1236.4 L696.56,1236.09 L697.59,1235.79 L698.62,1235.49 L699.65,1235.18 L700.69,1234.87 L701.72,1234.56 L702.75,1234.25 L703.78,1233.93 L704.81,1233.62 L705.84,1233.3 L706.87,1232.98 L707.9,1232.65 L708.93,1232.33 L709.96,1232 L710.99,1231.67 L712.02,1231.34 L713.05,1231.01 L714.08,1230.68 L715.12,1230.34 L716.15,1230 L717.18,1229.66 L718.21,1229.32 L719.24,1228.98 L720.27,1228.63 L721.3,1228.28 L722.33,1227.93 L723.36,1227.58 L724.39,1227.23 L725.42,1226.87 L726.45,1226.52 L727.48,1226.16 L728.51,1225.8 L729.55,1225.43 L730.58,1225.07 L731.61,1224.7 L732.64,1224.33 L733.67,1223.96 L734.7,1223.59 L735.73,1223.22 L736.76,1222.84 L737.79,1222.46 L738.82,1222.08 L739.85,1221.7 L740.88,1221.32 L741.91,1220.93 L742.95,1220.55 L743.98,1220.16 L745.01,1219.77 L746.04,1219.38 L747.07,1218.98 L748.1,1218.59 L749.13,1218.19 L750.16,1217.79 L751.19,1217.39 L752.22,1216.98 L753.25,1216.58 L754.28,1216.17 L755.31,1215.77 L756.34,1215.36 L757.38,1214.95 L758.41,1214.53 L759.44,1214.12 L760.47,1213.7 L761.5,1213.28 L762.53,1212.86 L763.56,1212.44 L764.59,1212.02 L765.62,1211.59 L766.65,1211.17 L767.68,1210.74 L768.71,1210.31 L769.74,1209.88 L770.77,1209.45 L771.81,1209.01 L772.84,1208.58 L773.87,1208.14 L774.9,1207.7 L775.93,1207.26 L776.96,1206.82 L777.99,1206.37 L779.02,1205.93 L780.05,1205.48 L781.08,1205.03 L782.11,1204.58 L783.14,1204.13 L784.17,1203.68 L785.2,1203.23 L786.24,1202.77 L787.27,1202.31 L788.3,1201.86 L789.33,1201.4 L790.36,1200.93 L791.39,1200.47 L792.42,1200.01 L793.45,1199.54 L794.48,1199.08 L795.51,1198.61 L796.54,1198.14 L797.57,1197.67 L798.6,1197.2 L799.64,1196.72 L800.67,1196.25 L801.7,1195.77 L802.73,1195.3 L803.76,1194.82 L804.79,1194.34 L805.82,1193.86 L806.85,1193.37 L807.88,1192.89 L808.91,1192.41 L809.94,1191.92 L810.97,1191.43 L812,1190.95 L813.03,1190.46 L814.07,1189.97 L815.1,1189.47 L816.13,1188.98 L817.16,1188.49 L818.19,1187.99 L819.22,1187.5 L820.25,1187 L821.28,1186.5 L822.31,1186 L823.34,1185.5 L824.37,1185 L825.4,1184.5 L826.43,1183.99 L827.46,1183.49 L828.5,1182.98 L829.53,1182.48 L830.56,1181.97 L831.59,1181.46 L832.62,1180.95 L833.65,1180.44 L834.68,1179.93 L835.71,1179.42 L836.74,1178.91 L837.77,1178.39 L838.8,1177.88 L839.83,1177.36 L840.86,1176.85 L841.9,1176.33 L842.93,1175.81 L843.96,1175.29 L844.99,1174.77 L846.02,1174.25 L847.05,1173.73 L848.08,1173.21 L849.11,1172.69 L850.14,1172.16 L851.17,1171.64 L852.2,1171.12 L853.23,1170.59 L854.26,1170.06 L855.29,1169.54 L856.33,1169.01 L857.36,1168.48 L858.39,1167.95 L859.42,1167.42 L860.45,1166.89 L861.48,1166.36 L862.51,1165.83 L863.54,1165.3 L864.57,1164.77 L865.6,1164.23 L866.63,1163.7 L867.66,1163.16 L868.69,1162.63 L869.72,1162.1 L870.76,1161.56 L871.79,1161.02 L872.82,1160.49 L873.85,1159.95 L874.88,1159.41 L875.91,1158.87 L876.94,1158.34 L877.97,1157.8 L879,1157.26 L880.03,1156.72 L881.06,1156.18 L882.09,1155.64 L883.12,1155.1 L884.15,1154.56 L885.19,1154.01 L886.22,1153.47 L887.25,1152.93 L888.28,1152.39 L889.31,1151.84 L890.34,1151.3 L891.37,1150.76 L892.4,1150.21 L893.43,1149.67 L894.46,1149.13 L895.49,1148.58 L896.52,1148.04 L897.55,1147.49 L898.59,1146.95 L899.62,1146.4 L900.65,1145.86 L901.68,1145.31 L902.71,1144.77 L903.74,1144.22 L904.77,1143.68 L905.8,1143.13 L906.83,1142.58 L907.86,1142.04 L908.89,1141.49 L909.92,1140.95 L910.95,1140.4 L911.98,1139.85 L913.02,1139.31 L914.05,1138.76 L915.08,1138.21 L916.11,1137.67 L917.14,1137.12 L918.17,1136.57 L919.2,1136.03 L920.23,1135.48 L921.26,1134.93 L922.29,1134.39 L923.32,1133.84 L924.35,1133.3 L925.38,1132.75" stroke="#34B3B7" stroke-width="1.3" stroke-dasharray="3.6 3.6"/>
<path d="M679.04,1268.54 L680.28,1268.23 L681.53,1267.92 L682.77,1267.6 L684.02,1267.29 L685.26,1266.97 L686.51,1266.64 L687.75,1266.32 L689,1265.99 L690.24,1265.66 L691.49,1265.32 L692.73,1264.98 L693.98,1264.64 L695.22,1264.3 L696.47,1263.95 L697.71,1263.6 L698.95,1263.25 L700.2,1262.9 L701.44,1262.54 L702.69,1262.18 L703.93,1261.82 L705.18,1261.45 L706.42,1261.08 L707.67,1260.71 L708.91,1260.33 L710.16,1259.95 L711.4,1259.57 L712.65,1259.19 L713.89,1258.8 L715.13,1258.41 L716.38,1258.02 L717.62,1257.63 L718.87,1257.23 L720.11,1256.83 L721.36,1256.42 L722.6,1256.02 L723.85,1255.61 L725.09,1255.19 L726.34,1254.78 L727.58,1254.36 L728.83,1253.94 L730.07,1253.52 L731.32,1253.09 L732.56,1252.66 L733.8,1252.23 L735.05,1251.8 L736.29,1251.36 L737.54,1250.92 L738.78,1250.48 L740.03,1250.03 L741.27,1249.58 L742.52,1249.13 L743.76,1248.68 L745.01,1248.22 L746.25,1247.76 L747.5,1247.3 L748.74,1246.84 L749.99,1246.37 L751.23,1245.9 L752.47,1245.43 L753.72,1244.96 L754.96,1244.48 L756.21,1244 L757.45,1243.52 L758.7,1243.03 L759.94,1242.54 L761.19,1242.05 L762.43,1241.56 L763.68,1241.07 L764.92,1240.57 L766.17,1240.07 L767.41,1239.57 L768.65,1239.06 L769.9,1238.55 L771.14,1238.05 L772.39,1237.53 L773.63,1237.02 L774.88,1236.5 L776.12,1235.98 L777.37,1235.46 L778.61,1234.94 L779.86,1234.41 L781.1,1233.88 L782.35,1233.35 L783.59,1232.82 L784.84,1232.29 L786.08,1231.75 L787.32,1231.21 L788.57,1230.67 L789.81,1230.12 L791.06,1229.58 L792.3,1229.03 L793.55,1228.48 L794.79,1227.93 L796.04,1227.37 L797.28,1226.82 L798.53,1226.26 L799.77,1225.7 L801.02,1225.14 L802.26,1224.57 L803.51,1224.01 L804.75,1223.44 L805.99,1222.87 L807.24,1222.29 L808.48,1221.72 L809.73,1221.14 L810.97,1220.57 L812.22,1219.99 L813.46,1219.41 L814.71,1218.82 L815.95,1218.24 L817.2,1217.65 L818.44,1217.06 L819.69,1216.47 L820.93,1215.88 L822.18,1215.29 L823.42,1214.69 L824.66,1214.1 L825.91,1213.5 L827.15,1212.9 L828.4,1212.3 L829.64,1211.69 L830.89,1211.09 L832.13,1210.48 L833.38,1209.88 L834.62,1209.27 L835.87,1208.66 L837.11,1208.04 L838.36,1207.43 L839.6,1206.82 L840.84,1206.2 L842.09,1205.58 L843.33,1204.96 L844.58,1204.34 L845.82,1203.72 L847.07,1203.1 L848.31,1202.48 L849.56,1201.85 L850.8,1201.23 L852.05,1200.6 L853.29,1199.97 L854.54,1199.34 L855.78,1198.71 L857.03,1198.08 L858.27,1197.45 L859.51,1196.81 L860.76,1196.18 L862,1195.54 L863.25,1194.91 L864.49,1194.27 L865.74,1193.63 L866.98,1192.99 L868.23,1192.35 L869.47,1191.71 L870.72,1191.06 L871.96,1190.42 L873.21,1189.78 L874.45,1189.13 L875.7,1188.49 L876.94,1187.84 L878.18,1187.19 L879.43,1186.55 L880.67,1185.9 L881.92,1185.25 L883.16,1184.6 L884.41,1183.95 L885.65,1183.3 L886.9,1182.65 L888.14,1182 L889.39,1181.34 L890.63,1180.69 L891.88,1180.04 L893.12,1179.38 L894.36,1178.73 L895.61,1178.07 L896.85,1177.42 L898.1,1176.76 L899.34,1176.1 L900.59,1175.45 L901.83,1174.79 L903.08,1174.13 L904.32,1173.48 L905.57,1172.82 L906.81,1172.16 L908.06,1171.5 L909.3,1170.84 L910.55,1170.18 L911.79,1169.53 L913.03,1168.87 L914.28,1168.21 L915.52,1167.55 L916.77,1166.89 L918.01,1166.23 L919.26,1165.57 L920.5,1164.91 L921.75,1164.25 L922.99,1163.59 L924.24,1162.93 L925.48,1162.27 L926.73,1161.61 L927.97,1160.95 L929.22,1160.29 L930.46,1159.63 L931.7,1158.97 L932.95,1158.31 L934.19,1157.65 L935.44,1156.99 L936.68,1156.33 L937.93,1155.68 L939.17,1155.02 L940.42,1154.36 L941.66,1153.7 L942.91,1153.04 L944.15,1152.39 L945.4,1151.73 L946.64,1151.07 L947.88,1150.41 L949.13,1149.76 L950.37,1149.1 L951.62,1148.45 L952.86,1147.79 L954.11,1147.14 L955.35,1146.48 L956.6,1145.83 L957.84,1145.17 L959.09,1144.52 L960.33,1143.87 L961.58,1143.22 L962.82,1142.56 L964.07,1141.91 L965.31,1141.26 L966.55,1140.61 L967.8,1139.96 L969.04,1139.31 L970.29,1138.67 L971.53,1138.02 L972.78,1137.37 L974.02,1136.72 L975.27,1136.08 L976.51,1135.43" stroke="#34B3B7" stroke-width="1.3" stroke-dasharray="3.6 3.6"/>
<path d="M679.04,1254.74 L680.18,1254.45 L681.33,1254.16 L682.47,1253.86 L683.61,1253.56 L684.75,1253.26 L685.9,1252.96 L687.04,1252.65 L688.18,1252.34 L689.32,1252.03 L690.47,1251.72 L691.61,1251.41 L692.75,1251.09 L693.89,1250.77 L695.04,1250.45 L696.18,1250.12 L697.32,1249.79 L698.46,1249.46 L699.61,1249.13 L700.75,1248.8 L701.89,1248.46 L703.03,1248.12 L704.18,1247.78 L705.32,1247.43 L706.46,1247.09 L707.6,1246.74 L708.75,1246.39 L709.89,1246.03 L711.03,1245.67 L712.17,1245.32 L713.32,1244.95 L714.46,1244.59 L715.6,1244.22 L716.74,1243.86 L717.89,1243.48 L719.03,1243.11 L720.17,1242.74 L721.31,1242.36 L722.46,1241.98 L723.6,1241.59 L724.74,1241.21 L725.88,1240.82 L727.03,1240.43 L728.17,1240.04 L729.31,1239.65 L730.45,1239.25 L731.6,1238.85 L732.74,1238.45 L733.88,1238.04 L735.03,1237.64 L736.17,1237.23 L737.31,1236.82 L738.45,1236.41 L739.6,1235.99 L740.74,1235.57 L741.88,1235.15 L743.02,1234.73 L744.17,1234.31 L745.31,1233.88 L746.45,1233.45 L747.59,1233.02 L748.74,1232.59 L749.88,1232.15 L751.02,1231.72 L752.16,1231.28 L753.31,1230.84 L754.45,1230.39 L755.59,1229.95 L756.73,1229.5 L757.88,1229.05 L759.02,1228.6 L760.16,1228.14 L761.3,1227.68 L762.45,1227.23 L763.59,1226.77 L764.73,1226.3 L765.87,1225.84 L767.02,1225.37 L768.16,1224.9 L769.3,1224.43 L770.44,1223.96 L771.59,1223.48 L772.73,1223.01 L773.87,1222.53 L775.01,1222.05 L776.16,1221.57 L777.3,1221.08 L778.44,1220.59 L779.58,1220.11 L780.73,1219.62 L781.87,1219.12 L783.01,1218.63 L784.15,1218.13 L785.3,1217.64 L786.44,1217.14 L787.58,1216.64 L788.73,1216.13 L789.87,1215.63 L791.01,1215.12 L792.15,1214.61 L793.3,1214.1 L794.44,1213.59 L795.58,1213.08 L796.72,1212.56 L797.87,1212.05 L799.01,1211.53 L800.15,1211.01 L801.29,1210.48 L802.44,1209.96 L803.58,1209.44 L804.72,1208.91 L805.86,1208.38 L807.01,1207.85 L808.15,1207.32 L809.29,1206.79 L810.43,1206.25 L811.58,1205.72 L812.72,1205.18 L813.86,1204.64 L815,1204.1 L816.15,1203.56 L817.29,1203.02 L818.43,1202.47 L819.57,1201.93 L820.72,1201.38 L821.86,1200.83 L823,1200.28 L824.14,1199.73 L825.29,1199.18 L826.43,1198.62 L827.57,1198.07 L828.71,1197.51 L829.86,1196.95 L831,1196.39 L832.14,1195.83 L833.28,1195.27 L834.43,1194.71 L835.57,1194.15 L836.71,1193.58 L837.85,1193.02 L839,1192.45 L840.14,1191.88 L841.28,1191.31 L842.42,1190.74 L843.57,1190.17 L844.71,1189.6 L845.85,1189.02 L847,1188.45 L848.14,1187.87 L849.28,1187.3 L850.42,1186.72 L851.57,1186.14 L852.71,1185.56 L853.85,1184.98 L854.99,1184.4 L856.14,1183.82 L857.28,1183.24 L858.42,1182.65 L859.56,1182.07 L860.71,1181.48 L861.85,1180.9 L862.99,1180.31 L864.13,1179.72 L865.28,1179.13 L866.42,1178.54 L867.56,1177.95 L868.7,1177.36 L869.85,1176.77 L870.99,1176.18 L872.13,1175.59 L873.27,1175 L874.42,1174.4 L875.56,1173.81 L876.7,1173.21 L877.84,1172.62 L878.99,1172.02 L880.13,1171.42 L881.27,1170.83 L882.41,1170.23 L883.56,1169.63 L884.7,1169.03 L885.84,1168.43 L886.98,1167.83 L888.13,1167.23 L889.27,1166.63 L890.41,1166.03 L891.55,1165.43 L892.7,1164.83 L893.84,1164.23 L894.98,1163.63 L896.12,1163.03 L897.27,1162.42 L898.41,1161.82 L899.55,1161.22 L900.7,1160.61 L901.84,1160.01 L902.98,1159.4 L904.12,1158.8 L905.27,1158.2 L906.41,1157.59 L907.55,1156.99 L908.69,1156.38 L909.84,1155.78 L910.98,1155.17 L912.12,1154.57 L913.26,1153.96 L914.41,1153.35 L915.55,1152.75 L916.69,1152.14 L917.83,1151.54 L918.98,1150.93 L920.12,1150.33 L921.26,1149.72 L922.4,1149.12 L923.55,1148.51 L924.69,1147.9 L925.83,1147.3 L926.97,1146.69 L928.12,1146.09 L929.26,1145.48 L930.4,1144.88 L931.54,1144.27 L932.69,1143.67 L933.83,1143.06 L934.97,1142.46 L936.11,1141.85 L937.26,1141.25 L938.4,1140.64 L939.54,1140.04 L940.68,1139.44 L941.83,1138.83 L942.97,1138.23 L944.11,1137.63 L945.25,1137.03 L946.4,1136.42 L947.54,1135.82 L948.68,1135.22 L949.82,1134.62 L950.97,1134.02 L952.11,1133.42" stroke="#16ADB2" stroke-width="1.8"/>
</g>
<g>
<circle cx="713.9" cy="1245.42" r="3.6" fill="#F8766D" fill-opacity="0.5"/>
<circle cx="830.1" cy="1234.58" r="3.6" fill="#F8766D" fill-opacity="0.5"/>
<circle cx="946.3" cy="1227.8" r="3.6" fill="#F8766D" fill-opacity="0.5"/>
<circle cx="713.9" cy="1243.76" r="3.6" fill="#00BFC4" fill-opacity="0.5"/>
<circle cx="830.1" cy="1195.55" r="3.6" fill="#00BFC4" fill-opacity="0.5"/>
<circle cx="946.3" cy="1143.69" r="3.6" fill="#00BFC4" fill-opacity="0.5"/>
</g>
<rect x="664.5" y="1125.2" width="331.9" height="163.2" fill="none" stroke="#626262" stroke-width="1.2"/>
<line x1="713.9" x2="713.9" y1="1288.4" y2="1291.4" stroke="#333" stroke-width="1.2"/>
<text x="713.9" y="1302" font-size="10" text-anchor="middle" fill="#404040">3.0</text>
<line x1="772" x2="772" y1="1288.4" y2="1291.4" stroke="#333" stroke-width="1.2"/>
<text x="772" y="1302" font-size="10" text-anchor="middle" fill="#404040">3.5</text>
<line x1="830.1" x2="830.1" y1="1288.4" y2="1291.4" stroke="#333" stroke-width="1.2"/>
<text x="830.1" y="1302" font-size="10" text-anchor="middle" fill="#404040">4.0</text>
<line x1="888.2" x2="888.2" y1="1288.4" y2="1291.4" stroke="#333" stroke-width="1.2"/>
<text x="888.2" y="1302" font-size="10" text-anchor="middle" fill="#404040">4.5</text>
<line x1="946.3" x2="946.3" y1="1288.4" y2="1291.4" stroke="#333" stroke-width="1.2"/>
<text x="946.3" y="1302" font-size="10" text-anchor="middle" fill="#404040">5.0</text>
<line x1="661.5" x2="664.5" y1="1264.85" y2="1264.85" stroke="#333" stroke-width="1.2"/>
<text x="658.6" y="1268.25" font-size="10" text-anchor="end" fill="#404040">5.0e+05</text>
<line x1="661.5" x2="664.5" y1="1223.5" y2="1223.5" stroke="#333" stroke-width="1.2"/>
<text x="658.6" y="1226.9" font-size="10" text-anchor="end" fill="#404040">1.0e+06</text>
<line x1="661.5" x2="664.5" y1="1182.15" y2="1182.15" stroke="#333" stroke-width="1.2"/>
<text x="658.6" y="1185.55" font-size="10" text-anchor="end" fill="#404040">1.5e+06</text>
<line x1="661.5" x2="664.5" y1="1140.8" y2="1140.8" stroke="#333" stroke-width="1.2"/>
<text x="658.6" y="1144.2" font-size="10" text-anchor="end" fill="#404040">2.0e+06</text>
<text x="830.4" y="1314.8" font-size="12.5" text-anchor="middle" fill="#000">Time (h)</text>
<text transform="translate(620.6,1207.2) rotate(-90)" font-size="12" text-anchor="middle" fill="#000">CFU/mL</text>
<rect x="168.7" y="757.8" width="873.1" height="590.8" fill="none" stroke="#333" stroke-width="1.4"/>
<line x1="208.1" x2="208.1" y1="1348.6" y2="1355.3999999999999" stroke="#333" stroke-width="2"/>
<text x="208.1" y="1375.9" font-size="23" text-anchor="middle" fill="#404040">0</text>
<line x1="373.6" x2="373.6" y1="1348.6" y2="1355.3999999999999" stroke="#333" stroke-width="2"/>
<text x="373.6" y="1375.9" font-size="23" text-anchor="middle" fill="#404040">5</text>
<line x1="539.1" x2="539.1" y1="1348.6" y2="1355.3999999999999" stroke="#333" stroke-width="2"/>
<text x="539.1" y="1375.9" font-size="23" text-anchor="middle" fill="#404040">10</text>
<line x1="704.6" x2="704.6" y1="1348.6" y2="1355.3999999999999" stroke="#333" stroke-width="2"/>
<text x="704.6" y="1375.9" font-size="23" text-anchor="middle" fill="#404040">15</text>
<line x1="870.1" x2="870.1" y1="1348.6" y2="1355.3999999999999" stroke="#333" stroke-width="2"/>
<text x="870.1" y="1375.9" font-size="23" text-anchor="middle" fill="#404040">20</text>
<line x1="1035.6" x2="1035.6" y1="1348.6" y2="1355.3999999999999" stroke="#333" stroke-width="2"/>
<text x="1035.6" y="1375.9" font-size="23" text-anchor="middle" fill="#404040">25</text>
<line x1="161.1" x2="168.7" y1="1322" y2="1322" stroke="#333" stroke-width="2"/>
<text x="154.3" y="1327.4" font-size="23.3" text-anchor="end" fill="#404040">0e+00</text>
<line x1="161.1" x2="168.7" y1="1206.4" y2="1206.4" stroke="#333" stroke-width="2"/>
<text x="154.3" y="1211.8" font-size="23.3" text-anchor="end" fill="#404040">1e+06</text>
<line x1="161.1" x2="168.7" y1="1090.8" y2="1090.8" stroke="#333" stroke-width="2"/>
<text x="154.3" y="1096.2" font-size="23.3" text-anchor="end" fill="#404040">2e+06</text>
<line x1="161.1" x2="168.7" y1="975.2" y2="975.2" stroke="#333" stroke-width="2"/>
<text x="154.3" y="980.6" font-size="23.3" text-anchor="end" fill="#404040">3e+06</text>
<line x1="161.1" x2="168.7" y1="859.6" y2="859.6" stroke="#333" stroke-width="2"/>
<text x="154.3" y="865" font-size="23.3" text-anchor="end" fill="#404040">4e+06</text>
<text x="605.1" y="1406.1" font-size="29.4" text-anchor="middle" fill="#000">Time (h)</text>
<text transform="translate(82.5,1053.2) rotate(-90)" font-size="28.5" text-anchor="middle" fill="#000">CFU/mL</text>
<text transform="translate(12.8,786.4) scale(0.92,1)" x="0" y="0" font-size="41.5" font-weight="bold" fill="#000">b</text>
<line x1="405" x2="417.1" y1="1462" y2="1462" stroke="#F8766D" stroke-opacity="0.5" stroke-width="1.6"/>
<circle cx="411.05" cy="1462" r="3" fill="#F8766D" fill-opacity="0.5"/>
<text x="433.3" y="1467.1" font-size="23.6" fill="#000">with postbiotics</text>
<line x1="598.7" x2="611" y1="1462" y2="1462" stroke="#00BFC4" stroke-opacity="0.5" stroke-width="1.6"/>
<circle cx="604.85" cy="1462" r="3" fill="#00BFC4" fill-opacity="0.5"/>
<text x="627.1" y="1467.1" font-size="23.6" fill="#000">without postbiotics</text>
</svg>
</body></html>
